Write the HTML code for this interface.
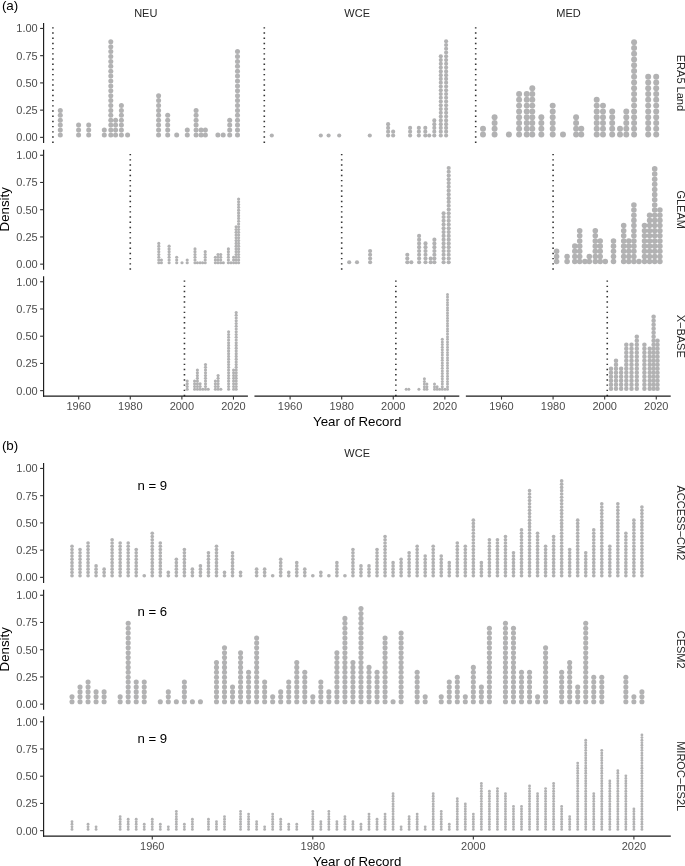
<!DOCTYPE html>
<html lang="en">
<head>
<meta charset="utf-8">
<title>Dot plots of record years</title>
<style>
html,body{margin:0;padding:0;background:#fff;}
body{width:685px;height:866px;overflow:hidden;}
svg{display:block;font-family:"Liberation Sans",Arial,Helvetica,sans-serif;}
</style>
</head>
<body>
<svg width="685" height="866" viewBox="0 0 685 866">
<rect width="685" height="866" fill="#fff"/>
<text x="1.9" y="9.6" font-size="13.4" fill="#000">(a)</text>
<text x="145.75" y="16.8" text-anchor="middle" font-size="11.0" fill="#262626">NEU</text>
<text x="357.15" y="16.8" text-anchor="middle" font-size="11.0" fill="#262626">WCE</text>
<text x="568.55" y="16.8" text-anchor="middle" font-size="11.0" fill="#262626">MED</text>
<line x1="43.6" y1="23.05" x2="43.6" y2="142.9" stroke="#1a1a1a" stroke-width="1.15"/>
<line x1="40.1" y1="28.45" x2="43.6" y2="28.45" stroke="#333" stroke-width="1.1"/>
<text x="37.7" y="32.3" text-anchor="end" font-size="11.0" fill="#4d4d4d">1.00</text>
<line x1="40.1" y1="55.67" x2="43.6" y2="55.67" stroke="#333" stroke-width="1.1"/>
<text x="37.7" y="59.52" text-anchor="end" font-size="11.0" fill="#4d4d4d">0.75</text>
<line x1="40.1" y1="82.9" x2="43.6" y2="82.9" stroke="#333" stroke-width="1.1"/>
<text x="37.7" y="86.75" text-anchor="end" font-size="11.0" fill="#4d4d4d">0.50</text>
<line x1="40.1" y1="110.13" x2="43.6" y2="110.13" stroke="#333" stroke-width="1.1"/>
<text x="37.7" y="113.98" text-anchor="end" font-size="11.0" fill="#4d4d4d">0.25</text>
<line x1="40.1" y1="137.35" x2="43.6" y2="137.35" stroke="#333" stroke-width="1.1"/>
<text x="37.7" y="141.2" text-anchor="end" font-size="11.0" fill="#4d4d4d">0.00</text>
<line x1="52.9" y1="142.95" x2="52.9" y2="23.5" stroke="#333" stroke-width="1.6" stroke-dasharray="1.4 3.8"/>
<g fill="#b2b2b3"><circle cx="60.3" cy="134.9" r="2.51"/><circle cx="60.3" cy="130" r="2.51"/><circle cx="60.3" cy="125.1" r="2.51"/><circle cx="60.3" cy="120.2" r="2.51"/><circle cx="60.3" cy="115.3" r="2.51"/><circle cx="60.3" cy="110.4" r="2.51"/><circle cx="78.6" cy="134.9" r="2.51"/><circle cx="78.6" cy="130" r="2.51"/><circle cx="78.6" cy="125.1" r="2.51"/><circle cx="88.7" cy="134.9" r="2.51"/><circle cx="88.7" cy="130" r="2.51"/><circle cx="88.7" cy="125.1" r="2.51"/><circle cx="104.3" cy="134.9" r="2.51"/><circle cx="104.3" cy="130" r="2.51"/><circle cx="110.8" cy="134.9" r="2.51"/><circle cx="110.8" cy="130" r="2.51"/><circle cx="110.8" cy="125.1" r="2.51"/><circle cx="110.8" cy="120.2" r="2.51"/><circle cx="110.8" cy="115.3" r="2.51"/><circle cx="110.8" cy="110.4" r="2.51"/><circle cx="110.8" cy="105.5" r="2.51"/><circle cx="110.8" cy="100.6" r="2.51"/><circle cx="110.8" cy="95.7" r="2.51"/><circle cx="110.8" cy="90.8" r="2.51"/><circle cx="110.8" cy="85.9" r="2.51"/><circle cx="110.8" cy="81" r="2.51"/><circle cx="110.8" cy="76.1" r="2.51"/><circle cx="110.8" cy="71.2" r="2.51"/><circle cx="110.8" cy="66.3" r="2.51"/><circle cx="110.8" cy="61.4" r="2.51"/><circle cx="110.8" cy="56.5" r="2.51"/><circle cx="110.8" cy="51.6" r="2.51"/><circle cx="110.8" cy="46.7" r="2.51"/><circle cx="110.8" cy="41.8" r="2.51"/><circle cx="115.6" cy="134.9" r="2.51"/><circle cx="115.6" cy="130" r="2.51"/><circle cx="115.6" cy="125.1" r="2.51"/><circle cx="115.6" cy="120.2" r="2.51"/><circle cx="121.4" cy="134.9" r="2.51"/><circle cx="121.4" cy="130" r="2.51"/><circle cx="121.4" cy="125.1" r="2.51"/><circle cx="121.4" cy="120.2" r="2.51"/><circle cx="121.4" cy="115.3" r="2.51"/><circle cx="121.4" cy="110.4" r="2.51"/><circle cx="121.4" cy="105.5" r="2.51"/><circle cx="127.6" cy="134.9" r="2.51"/><circle cx="158.6" cy="134.9" r="2.51"/><circle cx="158.6" cy="130" r="2.51"/><circle cx="158.6" cy="125.1" r="2.51"/><circle cx="158.6" cy="120.2" r="2.51"/><circle cx="158.6" cy="115.3" r="2.51"/><circle cx="158.6" cy="110.4" r="2.51"/><circle cx="158.6" cy="105.5" r="2.51"/><circle cx="158.6" cy="100.6" r="2.51"/><circle cx="158.6" cy="95.7" r="2.51"/><circle cx="167.7" cy="134.9" r="2.51"/><circle cx="167.7" cy="130" r="2.51"/><circle cx="167.7" cy="125.1" r="2.51"/><circle cx="167.7" cy="120.2" r="2.51"/><circle cx="167.7" cy="115.3" r="2.51"/><circle cx="176.7" cy="134.9" r="2.51"/><circle cx="187.3" cy="134.9" r="2.51"/><circle cx="187.3" cy="130" r="2.51"/><circle cx="196.1" cy="134.9" r="2.51"/><circle cx="196.1" cy="130" r="2.51"/><circle cx="196.1" cy="125.1" r="2.51"/><circle cx="196.1" cy="120.2" r="2.51"/><circle cx="196.1" cy="115.3" r="2.51"/><circle cx="196.1" cy="110.4" r="2.51"/><circle cx="201.1" cy="134.9" r="2.51"/><circle cx="201.1" cy="130" r="2.51"/><circle cx="205.4" cy="134.9" r="2.51"/><circle cx="205.4" cy="130" r="2.51"/><circle cx="217.9" cy="134.9" r="2.51"/><circle cx="223.2" cy="134.9" r="2.51"/><circle cx="229.7" cy="134.9" r="2.51"/><circle cx="229.7" cy="130" r="2.51"/><circle cx="229.7" cy="125.1" r="2.51"/><circle cx="229.7" cy="120.2" r="2.51"/><circle cx="237.5" cy="134.9" r="2.51"/><circle cx="237.5" cy="130" r="2.51"/><circle cx="237.5" cy="125.1" r="2.51"/><circle cx="237.5" cy="120.2" r="2.51"/><circle cx="237.5" cy="115.3" r="2.51"/><circle cx="237.5" cy="110.4" r="2.51"/><circle cx="237.5" cy="105.5" r="2.51"/><circle cx="237.5" cy="100.6" r="2.51"/><circle cx="237.5" cy="95.7" r="2.51"/><circle cx="237.5" cy="90.8" r="2.51"/><circle cx="237.5" cy="85.9" r="2.51"/><circle cx="237.5" cy="81" r="2.51"/><circle cx="237.5" cy="76.1" r="2.51"/><circle cx="237.5" cy="71.2" r="2.51"/><circle cx="237.5" cy="66.3" r="2.51"/><circle cx="237.5" cy="61.4" r="2.51"/><circle cx="237.5" cy="56.5" r="2.51"/><circle cx="237.5" cy="51.6" r="2.51"/></g>
<line x1="264.3" y1="142.95" x2="264.3" y2="23.5" stroke="#333" stroke-width="1.6" stroke-dasharray="1.4 3.8"/>
<g fill="#b2b2b3"><circle cx="271.8" cy="135.47" r="2.08"/><circle cx="320.8" cy="135.47" r="2.08"/><circle cx="328.6" cy="135.47" r="2.08"/><circle cx="339.2" cy="135.47" r="2.08"/><circle cx="369.8" cy="135.47" r="2.08"/><circle cx="388.1" cy="135.47" r="2.08"/><circle cx="388.1" cy="131.7" r="2.08"/><circle cx="388.1" cy="127.93" r="2.08"/><circle cx="388.1" cy="124.16" r="2.08"/><circle cx="393.15" cy="135.47" r="2.08"/><circle cx="393.15" cy="131.7" r="2.08"/><circle cx="410.1" cy="135.47" r="2.08"/><circle cx="410.1" cy="131.7" r="2.08"/><circle cx="410.1" cy="127.93" r="2.08"/><circle cx="418.85" cy="135.47" r="2.08"/><circle cx="418.85" cy="131.7" r="2.08"/><circle cx="418.85" cy="127.93" r="2.08"/><circle cx="425.3" cy="135.47" r="2.08"/><circle cx="425.3" cy="131.7" r="2.08"/><circle cx="425.3" cy="127.93" r="2.08"/><circle cx="429.2" cy="135.47" r="2.08"/><circle cx="434.3" cy="135.47" r="2.08"/><circle cx="434.3" cy="131.7" r="2.08"/><circle cx="434.3" cy="127.93" r="2.08"/><circle cx="434.3" cy="124.16" r="2.08"/><circle cx="434.3" cy="120.39" r="2.08"/><circle cx="440.8" cy="135.47" r="2.08"/><circle cx="440.8" cy="131.7" r="2.08"/><circle cx="440.8" cy="127.93" r="2.08"/><circle cx="440.8" cy="124.16" r="2.08"/><circle cx="440.8" cy="120.39" r="2.08"/><circle cx="440.8" cy="116.62" r="2.08"/><circle cx="440.8" cy="112.85" r="2.08"/><circle cx="440.8" cy="109.08" r="2.08"/><circle cx="440.8" cy="105.31" r="2.08"/><circle cx="440.8" cy="101.54" r="2.08"/><circle cx="440.8" cy="97.77" r="2.08"/><circle cx="440.8" cy="94" r="2.08"/><circle cx="440.8" cy="90.23" r="2.08"/><circle cx="440.8" cy="86.46" r="2.08"/><circle cx="440.8" cy="82.69" r="2.08"/><circle cx="440.8" cy="78.92" r="2.08"/><circle cx="440.8" cy="75.15" r="2.08"/><circle cx="440.8" cy="71.38" r="2.08"/><circle cx="440.8" cy="67.61" r="2.08"/><circle cx="440.8" cy="63.84" r="2.08"/><circle cx="440.8" cy="60.07" r="2.08"/><circle cx="440.8" cy="56.3" r="2.08"/><circle cx="446.1" cy="135.47" r="2.08"/><circle cx="446.1" cy="131.7" r="2.08"/><circle cx="446.1" cy="127.93" r="2.08"/><circle cx="446.1" cy="124.16" r="2.08"/><circle cx="446.1" cy="120.39" r="2.08"/><circle cx="446.1" cy="116.62" r="2.08"/><circle cx="446.1" cy="112.85" r="2.08"/><circle cx="446.1" cy="109.08" r="2.08"/><circle cx="446.1" cy="105.31" r="2.08"/><circle cx="446.1" cy="101.54" r="2.08"/><circle cx="446.1" cy="97.77" r="2.08"/><circle cx="446.1" cy="94" r="2.08"/><circle cx="446.1" cy="90.23" r="2.08"/><circle cx="446.1" cy="86.46" r="2.08"/><circle cx="446.1" cy="82.69" r="2.08"/><circle cx="446.1" cy="78.92" r="2.08"/><circle cx="446.1" cy="75.15" r="2.08"/><circle cx="446.1" cy="71.38" r="2.08"/><circle cx="446.1" cy="67.61" r="2.08"/><circle cx="446.1" cy="63.84" r="2.08"/><circle cx="446.1" cy="60.07" r="2.08"/><circle cx="446.1" cy="56.3" r="2.08"/><circle cx="446.1" cy="52.53" r="2.08"/><circle cx="446.1" cy="48.76" r="2.08"/><circle cx="446.1" cy="44.99" r="2.08"/><circle cx="446.1" cy="41.22" r="2.08"/></g>
<line x1="475.7" y1="142.95" x2="475.7" y2="23.5" stroke="#333" stroke-width="1.6" stroke-dasharray="1.4 3.8"/>
<g fill="#b2b2b3"><circle cx="483" cy="134.47" r="2.98"/><circle cx="483" cy="128.7" r="2.98"/><circle cx="494.6" cy="134.47" r="2.98"/><circle cx="494.6" cy="128.7" r="2.98"/><circle cx="494.6" cy="122.93" r="2.98"/><circle cx="494.6" cy="117.16" r="2.98"/><circle cx="508.9" cy="134.47" r="2.98"/><circle cx="519.1" cy="134.47" r="2.98"/><circle cx="519.1" cy="128.7" r="2.98"/><circle cx="519.1" cy="122.93" r="2.98"/><circle cx="519.1" cy="117.16" r="2.98"/><circle cx="519.1" cy="111.39" r="2.98"/><circle cx="519.1" cy="105.62" r="2.98"/><circle cx="519.1" cy="99.85" r="2.98"/><circle cx="519.1" cy="94.08" r="2.98"/><circle cx="526.75" cy="134.47" r="2.98"/><circle cx="526.75" cy="128.7" r="2.98"/><circle cx="526.75" cy="122.93" r="2.98"/><circle cx="526.75" cy="117.16" r="2.98"/><circle cx="526.75" cy="111.39" r="2.98"/><circle cx="526.75" cy="105.62" r="2.98"/><circle cx="526.75" cy="99.85" r="2.98"/><circle cx="526.75" cy="94.08" r="2.98"/><circle cx="532.3" cy="134.47" r="2.98"/><circle cx="532.3" cy="128.7" r="2.98"/><circle cx="532.3" cy="122.93" r="2.98"/><circle cx="532.3" cy="117.16" r="2.98"/><circle cx="532.3" cy="111.39" r="2.98"/><circle cx="532.3" cy="105.62" r="2.98"/><circle cx="532.3" cy="99.85" r="2.98"/><circle cx="532.3" cy="94.08" r="2.98"/><circle cx="532.3" cy="88.31" r="2.98"/><circle cx="541.35" cy="134.47" r="2.98"/><circle cx="541.35" cy="128.7" r="2.98"/><circle cx="541.35" cy="122.93" r="2.98"/><circle cx="541.35" cy="117.16" r="2.98"/><circle cx="552.7" cy="134.47" r="2.98"/><circle cx="552.7" cy="128.7" r="2.98"/><circle cx="552.7" cy="122.93" r="2.98"/><circle cx="552.7" cy="117.16" r="2.98"/><circle cx="552.7" cy="111.39" r="2.98"/><circle cx="552.7" cy="105.62" r="2.98"/><circle cx="563" cy="134.47" r="2.98"/><circle cx="576.1" cy="134.47" r="2.98"/><circle cx="576.1" cy="128.7" r="2.98"/><circle cx="576.1" cy="122.93" r="2.98"/><circle cx="576.1" cy="117.16" r="2.98"/><circle cx="581.3" cy="134.47" r="2.98"/><circle cx="581.3" cy="128.7" r="2.98"/><circle cx="596.7" cy="134.47" r="2.98"/><circle cx="596.7" cy="128.7" r="2.98"/><circle cx="596.7" cy="122.93" r="2.98"/><circle cx="596.7" cy="117.16" r="2.98"/><circle cx="596.7" cy="111.39" r="2.98"/><circle cx="596.7" cy="105.62" r="2.98"/><circle cx="596.7" cy="99.85" r="2.98"/><circle cx="603" cy="134.47" r="2.98"/><circle cx="603" cy="128.7" r="2.98"/><circle cx="603" cy="122.93" r="2.98"/><circle cx="603" cy="117.16" r="2.98"/><circle cx="603" cy="111.39" r="2.98"/><circle cx="603" cy="105.62" r="2.98"/><circle cx="612.2" cy="134.47" r="2.98"/><circle cx="612.2" cy="128.7" r="2.98"/><circle cx="612.2" cy="122.93" r="2.98"/><circle cx="612.2" cy="117.16" r="2.98"/><circle cx="612.2" cy="111.39" r="2.98"/><circle cx="620" cy="134.47" r="2.98"/><circle cx="620" cy="128.7" r="2.98"/><circle cx="626.3" cy="134.47" r="2.98"/><circle cx="626.3" cy="128.7" r="2.98"/><circle cx="626.3" cy="122.93" r="2.98"/><circle cx="626.3" cy="117.16" r="2.98"/><circle cx="626.3" cy="111.39" r="2.98"/><circle cx="634.1" cy="134.47" r="2.98"/><circle cx="634.1" cy="128.7" r="2.98"/><circle cx="634.1" cy="122.93" r="2.98"/><circle cx="634.1" cy="117.16" r="2.98"/><circle cx="634.1" cy="111.39" r="2.98"/><circle cx="634.1" cy="105.62" r="2.98"/><circle cx="634.1" cy="99.85" r="2.98"/><circle cx="634.1" cy="94.08" r="2.98"/><circle cx="634.1" cy="88.31" r="2.98"/><circle cx="634.1" cy="82.54" r="2.98"/><circle cx="634.1" cy="76.77" r="2.98"/><circle cx="634.1" cy="71" r="2.98"/><circle cx="634.1" cy="65.23" r="2.98"/><circle cx="634.1" cy="59.46" r="2.98"/><circle cx="634.1" cy="53.69" r="2.98"/><circle cx="634.1" cy="47.92" r="2.98"/><circle cx="634.1" cy="42.15" r="2.98"/><circle cx="648.2" cy="134.47" r="2.98"/><circle cx="648.2" cy="128.7" r="2.98"/><circle cx="648.2" cy="122.93" r="2.98"/><circle cx="648.2" cy="117.16" r="2.98"/><circle cx="648.2" cy="111.39" r="2.98"/><circle cx="648.2" cy="105.62" r="2.98"/><circle cx="648.2" cy="99.85" r="2.98"/><circle cx="648.2" cy="94.08" r="2.98"/><circle cx="648.2" cy="88.31" r="2.98"/><circle cx="648.2" cy="82.54" r="2.98"/><circle cx="648.2" cy="76.77" r="2.98"/><circle cx="656.2" cy="134.47" r="2.98"/><circle cx="656.2" cy="128.7" r="2.98"/><circle cx="656.2" cy="122.93" r="2.98"/><circle cx="656.2" cy="117.16" r="2.98"/><circle cx="656.2" cy="111.39" r="2.98"/><circle cx="656.2" cy="105.62" r="2.98"/><circle cx="656.2" cy="99.85" r="2.98"/><circle cx="656.2" cy="94.08" r="2.98"/><circle cx="656.2" cy="88.31" r="2.98"/><circle cx="656.2" cy="82.54" r="2.98"/><circle cx="656.2" cy="76.77" r="2.98"/></g>
<line x1="43.6" y1="149.85" x2="43.6" y2="269.7" stroke="#1a1a1a" stroke-width="1.15"/>
<line x1="40.1" y1="155.25" x2="43.6" y2="155.25" stroke="#333" stroke-width="1.1"/>
<text x="37.7" y="159.1" text-anchor="end" font-size="11.0" fill="#4d4d4d">1.00</text>
<line x1="40.1" y1="182.47" x2="43.6" y2="182.47" stroke="#333" stroke-width="1.1"/>
<text x="37.7" y="186.32" text-anchor="end" font-size="11.0" fill="#4d4d4d">0.75</text>
<line x1="40.1" y1="209.7" x2="43.6" y2="209.7" stroke="#333" stroke-width="1.1"/>
<text x="37.7" y="213.55" text-anchor="end" font-size="11.0" fill="#4d4d4d">0.50</text>
<line x1="40.1" y1="236.93" x2="43.6" y2="236.93" stroke="#333" stroke-width="1.1"/>
<text x="37.7" y="240.78" text-anchor="end" font-size="11.0" fill="#4d4d4d">0.25</text>
<line x1="40.1" y1="264.15" x2="43.6" y2="264.15" stroke="#333" stroke-width="1.1"/>
<text x="37.7" y="268" text-anchor="end" font-size="11.0" fill="#4d4d4d">0.00</text>
<line x1="130.28" y1="269.75" x2="130.28" y2="150.3" stroke="#333" stroke-width="1.6" stroke-dasharray="1.4 3.8"/>
<g fill="#b2b2b3"><circle cx="158.8" cy="262.77" r="1.58"/><circle cx="158.8" cy="260" r="1.58"/><circle cx="158.8" cy="257.23" r="1.58"/><circle cx="158.8" cy="254.46" r="1.58"/><circle cx="158.8" cy="251.69" r="1.58"/><circle cx="158.8" cy="248.92" r="1.58"/><circle cx="158.8" cy="246.15" r="1.58"/><circle cx="158.8" cy="243.38" r="1.58"/><circle cx="161.4" cy="262.77" r="1.58"/><circle cx="161.4" cy="260" r="1.58"/><circle cx="169.1" cy="262.77" r="1.58"/><circle cx="169.1" cy="260" r="1.58"/><circle cx="169.1" cy="257.23" r="1.58"/><circle cx="169.1" cy="254.46" r="1.58"/><circle cx="169.1" cy="251.69" r="1.58"/><circle cx="169.1" cy="248.92" r="1.58"/><circle cx="169.1" cy="246.15" r="1.58"/><circle cx="176.7" cy="262.77" r="1.58"/><circle cx="176.7" cy="260" r="1.58"/><circle cx="176.7" cy="257.23" r="1.58"/><circle cx="182" cy="262.77" r="1.58"/><circle cx="187.2" cy="262.77" r="1.58"/><circle cx="187.2" cy="260" r="1.58"/><circle cx="195" cy="262.77" r="1.58"/><circle cx="195" cy="260" r="1.58"/><circle cx="195" cy="257.23" r="1.58"/><circle cx="195" cy="254.46" r="1.58"/><circle cx="195" cy="251.69" r="1.58"/><circle cx="195" cy="248.92" r="1.58"/><circle cx="197.4" cy="262.77" r="1.58"/><circle cx="200.1" cy="262.77" r="1.58"/><circle cx="202.6" cy="262.77" r="1.58"/><circle cx="205.2" cy="262.77" r="1.58"/><circle cx="205.2" cy="260" r="1.58"/><circle cx="205.2" cy="257.23" r="1.58"/><circle cx="205.2" cy="254.46" r="1.58"/><circle cx="205.2" cy="251.69" r="1.58"/><circle cx="215.4" cy="262.77" r="1.58"/><circle cx="215.4" cy="260" r="1.58"/><circle cx="215.4" cy="257.23" r="1.58"/><circle cx="218" cy="262.77" r="1.58"/><circle cx="218" cy="260" r="1.58"/><circle cx="218" cy="257.23" r="1.58"/><circle cx="218" cy="254.46" r="1.58"/><circle cx="220.7" cy="262.77" r="1.58"/><circle cx="220.7" cy="260" r="1.58"/><circle cx="220.7" cy="257.23" r="1.58"/><circle cx="220.7" cy="254.46" r="1.58"/><circle cx="223.3" cy="262.77" r="1.58"/><circle cx="228.4" cy="262.77" r="1.58"/><circle cx="228.4" cy="260" r="1.58"/><circle cx="228.4" cy="257.23" r="1.58"/><circle cx="228.4" cy="254.46" r="1.58"/><circle cx="228.4" cy="251.69" r="1.58"/><circle cx="228.4" cy="248.92" r="1.58"/><circle cx="231" cy="262.77" r="1.58"/><circle cx="233.6" cy="262.77" r="1.58"/><circle cx="233.6" cy="260" r="1.58"/><circle cx="233.6" cy="257.23" r="1.58"/><circle cx="236.1" cy="262.77" r="1.58"/><circle cx="236.1" cy="260" r="1.58"/><circle cx="236.1" cy="257.23" r="1.58"/><circle cx="236.1" cy="254.46" r="1.58"/><circle cx="236.1" cy="251.69" r="1.58"/><circle cx="236.1" cy="248.92" r="1.58"/><circle cx="236.1" cy="246.15" r="1.58"/><circle cx="236.1" cy="243.38" r="1.58"/><circle cx="236.1" cy="240.61" r="1.58"/><circle cx="236.1" cy="237.84" r="1.58"/><circle cx="236.1" cy="235.07" r="1.58"/><circle cx="236.1" cy="232.3" r="1.58"/><circle cx="236.1" cy="229.53" r="1.58"/><circle cx="236.1" cy="226.76" r="1.58"/><circle cx="238.6" cy="262.77" r="1.58"/><circle cx="238.6" cy="260" r="1.58"/><circle cx="238.6" cy="257.23" r="1.58"/><circle cx="238.6" cy="254.46" r="1.58"/><circle cx="238.6" cy="251.69" r="1.58"/><circle cx="238.6" cy="248.92" r="1.58"/><circle cx="238.6" cy="246.15" r="1.58"/><circle cx="238.6" cy="243.38" r="1.58"/><circle cx="238.6" cy="240.61" r="1.58"/><circle cx="238.6" cy="237.84" r="1.58"/><circle cx="238.6" cy="235.07" r="1.58"/><circle cx="238.6" cy="232.3" r="1.58"/><circle cx="238.6" cy="229.53" r="1.58"/><circle cx="238.6" cy="226.76" r="1.58"/><circle cx="238.6" cy="223.99" r="1.58"/><circle cx="238.6" cy="221.22" r="1.58"/><circle cx="238.6" cy="218.45" r="1.58"/><circle cx="238.6" cy="215.68" r="1.58"/><circle cx="238.6" cy="212.91" r="1.58"/><circle cx="238.6" cy="210.14" r="1.58"/><circle cx="238.6" cy="207.37" r="1.58"/><circle cx="238.6" cy="204.6" r="1.58"/><circle cx="238.6" cy="201.83" r="1.58"/><circle cx="238.6" cy="199.06" r="1.58"/></g>
<line x1="341.69" y1="269.75" x2="341.69" y2="150.3" stroke="#333" stroke-width="1.6" stroke-dasharray="1.4 3.8"/>
<g fill="#b2b2b3"><circle cx="349.2" cy="262.27" r="2.08"/><circle cx="357" cy="262.27" r="2.08"/><circle cx="370.1" cy="262.27" r="2.08"/><circle cx="370.1" cy="258.5" r="2.08"/><circle cx="370.1" cy="254.73" r="2.08"/><circle cx="370.1" cy="250.96" r="2.08"/><circle cx="407.3" cy="262.27" r="2.08"/><circle cx="407.3" cy="258.5" r="2.08"/><circle cx="407.3" cy="254.73" r="2.08"/><circle cx="411.3" cy="262.27" r="2.08"/><circle cx="419.1" cy="262.27" r="2.08"/><circle cx="419.1" cy="258.5" r="2.08"/><circle cx="419.1" cy="254.73" r="2.08"/><circle cx="419.1" cy="250.96" r="2.08"/><circle cx="419.1" cy="247.19" r="2.08"/><circle cx="419.1" cy="243.42" r="2.08"/><circle cx="419.1" cy="239.65" r="2.08"/><circle cx="419.1" cy="235.88" r="2.08"/><circle cx="425.5" cy="262.27" r="2.08"/><circle cx="425.5" cy="258.5" r="2.08"/><circle cx="425.5" cy="254.73" r="2.08"/><circle cx="425.5" cy="250.96" r="2.08"/><circle cx="425.5" cy="247.19" r="2.08"/><circle cx="425.5" cy="243.42" r="2.08"/><circle cx="430.7" cy="262.27" r="2.08"/><circle cx="430.7" cy="258.5" r="2.08"/><circle cx="434.4" cy="262.27" r="2.08"/><circle cx="434.4" cy="258.5" r="2.08"/><circle cx="434.4" cy="254.73" r="2.08"/><circle cx="434.4" cy="250.96" r="2.08"/><circle cx="434.4" cy="247.19" r="2.08"/><circle cx="434.4" cy="243.42" r="2.08"/><circle cx="434.4" cy="239.65" r="2.08"/><circle cx="443.6" cy="262.27" r="2.08"/><circle cx="443.6" cy="258.5" r="2.08"/><circle cx="443.6" cy="254.73" r="2.08"/><circle cx="443.6" cy="250.96" r="2.08"/><circle cx="443.6" cy="247.19" r="2.08"/><circle cx="443.6" cy="243.42" r="2.08"/><circle cx="443.6" cy="239.65" r="2.08"/><circle cx="443.6" cy="235.88" r="2.08"/><circle cx="443.6" cy="232.11" r="2.08"/><circle cx="443.6" cy="228.34" r="2.08"/><circle cx="443.6" cy="224.57" r="2.08"/><circle cx="443.6" cy="220.8" r="2.08"/><circle cx="443.6" cy="217.03" r="2.08"/><circle cx="443.6" cy="213.26" r="2.08"/><circle cx="448.7" cy="262.27" r="2.08"/><circle cx="448.7" cy="258.5" r="2.08"/><circle cx="448.7" cy="254.73" r="2.08"/><circle cx="448.7" cy="250.96" r="2.08"/><circle cx="448.7" cy="247.19" r="2.08"/><circle cx="448.7" cy="243.42" r="2.08"/><circle cx="448.7" cy="239.65" r="2.08"/><circle cx="448.7" cy="235.88" r="2.08"/><circle cx="448.7" cy="232.11" r="2.08"/><circle cx="448.7" cy="228.34" r="2.08"/><circle cx="448.7" cy="224.57" r="2.08"/><circle cx="448.7" cy="220.8" r="2.08"/><circle cx="448.7" cy="217.03" r="2.08"/><circle cx="448.7" cy="213.26" r="2.08"/><circle cx="448.7" cy="209.49" r="2.08"/><circle cx="448.7" cy="205.72" r="2.08"/><circle cx="448.7" cy="201.95" r="2.08"/><circle cx="448.7" cy="198.18" r="2.08"/><circle cx="448.7" cy="194.41" r="2.08"/><circle cx="448.7" cy="190.64" r="2.08"/><circle cx="448.7" cy="186.87" r="2.08"/><circle cx="448.7" cy="183.1" r="2.08"/><circle cx="448.7" cy="179.33" r="2.08"/><circle cx="448.7" cy="175.56" r="2.08"/><circle cx="448.7" cy="171.79" r="2.08"/><circle cx="448.7" cy="168.02" r="2.08"/></g>
<line x1="553.09" y1="269.75" x2="553.09" y2="150.3" stroke="#333" stroke-width="1.6" stroke-dasharray="1.4 3.8"/>
<g fill="#b2b2b3"><circle cx="556.6" cy="261.58" r="2.78"/><circle cx="556.6" cy="256.43" r="2.78"/><circle cx="556.6" cy="251.28" r="2.78"/><circle cx="567.1" cy="261.58" r="2.78"/><circle cx="567.1" cy="256.43" r="2.78"/><circle cx="574.8" cy="261.58" r="2.78"/><circle cx="574.8" cy="256.43" r="2.78"/><circle cx="574.8" cy="251.28" r="2.78"/><circle cx="574.8" cy="246.13" r="2.78"/><circle cx="579.7" cy="261.58" r="2.78"/><circle cx="579.7" cy="256.43" r="2.78"/><circle cx="579.7" cy="251.28" r="2.78"/><circle cx="579.7" cy="246.13" r="2.78"/><circle cx="579.7" cy="240.98" r="2.78"/><circle cx="579.7" cy="235.83" r="2.78"/><circle cx="579.7" cy="230.68" r="2.78"/><circle cx="584.9" cy="261.58" r="2.78"/><circle cx="589.3" cy="261.58" r="2.78"/><circle cx="589.3" cy="256.43" r="2.78"/><circle cx="595.3" cy="261.58" r="2.78"/><circle cx="595.3" cy="256.43" r="2.78"/><circle cx="595.3" cy="251.28" r="2.78"/><circle cx="595.3" cy="246.13" r="2.78"/><circle cx="595.3" cy="240.98" r="2.78"/><circle cx="595.3" cy="235.83" r="2.78"/><circle cx="595.3" cy="230.68" r="2.78"/><circle cx="600.2" cy="261.58" r="2.78"/><circle cx="600.2" cy="256.43" r="2.78"/><circle cx="600.2" cy="251.28" r="2.78"/><circle cx="600.2" cy="246.13" r="2.78"/><circle cx="600.2" cy="240.98" r="2.78"/><circle cx="605.3" cy="261.58" r="2.78"/><circle cx="613.5" cy="261.58" r="2.78"/><circle cx="613.5" cy="256.43" r="2.78"/><circle cx="613.5" cy="251.28" r="2.78"/><circle cx="613.5" cy="246.13" r="2.78"/><circle cx="613.5" cy="240.98" r="2.78"/><circle cx="623.7" cy="261.58" r="2.78"/><circle cx="623.7" cy="256.43" r="2.78"/><circle cx="623.7" cy="251.28" r="2.78"/><circle cx="623.7" cy="246.13" r="2.78"/><circle cx="623.7" cy="240.98" r="2.78"/><circle cx="623.7" cy="235.83" r="2.78"/><circle cx="623.7" cy="230.68" r="2.78"/><circle cx="623.7" cy="225.53" r="2.78"/><circle cx="628.8" cy="261.58" r="2.78"/><circle cx="628.8" cy="256.43" r="2.78"/><circle cx="628.8" cy="251.28" r="2.78"/><circle cx="628.8" cy="246.13" r="2.78"/><circle cx="628.8" cy="240.98" r="2.78"/><circle cx="633.9" cy="261.58" r="2.78"/><circle cx="633.9" cy="256.43" r="2.78"/><circle cx="633.9" cy="251.28" r="2.78"/><circle cx="633.9" cy="246.13" r="2.78"/><circle cx="633.9" cy="240.98" r="2.78"/><circle cx="633.9" cy="235.83" r="2.78"/><circle cx="633.9" cy="230.68" r="2.78"/><circle cx="633.9" cy="225.53" r="2.78"/><circle cx="633.9" cy="220.38" r="2.78"/><circle cx="633.9" cy="215.23" r="2.78"/><circle cx="633.9" cy="210.08" r="2.78"/><circle cx="633.9" cy="204.93" r="2.78"/><circle cx="639" cy="261.58" r="2.78"/><circle cx="644.5" cy="261.58" r="2.78"/><circle cx="644.5" cy="256.43" r="2.78"/><circle cx="644.5" cy="251.28" r="2.78"/><circle cx="644.5" cy="246.13" r="2.78"/><circle cx="644.5" cy="240.98" r="2.78"/><circle cx="644.5" cy="235.83" r="2.78"/><circle cx="644.5" cy="230.68" r="2.78"/><circle cx="644.5" cy="225.53" r="2.78"/><circle cx="649.6" cy="261.58" r="2.78"/><circle cx="649.6" cy="256.43" r="2.78"/><circle cx="649.6" cy="251.28" r="2.78"/><circle cx="649.6" cy="246.13" r="2.78"/><circle cx="649.6" cy="240.98" r="2.78"/><circle cx="649.6" cy="235.83" r="2.78"/><circle cx="649.6" cy="230.68" r="2.78"/><circle cx="649.6" cy="225.53" r="2.78"/><circle cx="649.6" cy="220.38" r="2.78"/><circle cx="649.6" cy="215.23" r="2.78"/><circle cx="654.7" cy="261.58" r="2.78"/><circle cx="654.7" cy="256.43" r="2.78"/><circle cx="654.7" cy="251.28" r="2.78"/><circle cx="654.7" cy="246.13" r="2.78"/><circle cx="654.7" cy="240.98" r="2.78"/><circle cx="654.7" cy="235.83" r="2.78"/><circle cx="654.7" cy="230.68" r="2.78"/><circle cx="654.7" cy="225.53" r="2.78"/><circle cx="654.7" cy="220.38" r="2.78"/><circle cx="654.7" cy="215.23" r="2.78"/><circle cx="654.7" cy="210.08" r="2.78"/><circle cx="654.7" cy="204.93" r="2.78"/><circle cx="654.7" cy="199.78" r="2.78"/><circle cx="654.7" cy="194.63" r="2.78"/><circle cx="654.7" cy="189.48" r="2.78"/><circle cx="654.7" cy="184.33" r="2.78"/><circle cx="654.7" cy="179.18" r="2.78"/><circle cx="654.7" cy="174.03" r="2.78"/><circle cx="654.7" cy="168.88" r="2.78"/><circle cx="659.9" cy="261.58" r="2.78"/><circle cx="659.9" cy="256.43" r="2.78"/><circle cx="659.9" cy="251.28" r="2.78"/><circle cx="659.9" cy="246.13" r="2.78"/><circle cx="659.9" cy="240.98" r="2.78"/><circle cx="659.9" cy="235.83" r="2.78"/><circle cx="659.9" cy="230.68" r="2.78"/><circle cx="659.9" cy="225.53" r="2.78"/><circle cx="659.9" cy="220.38" r="2.78"/><circle cx="659.9" cy="215.23" r="2.78"/><circle cx="659.9" cy="210.08" r="2.78"/></g>
<line x1="43.6" y1="276.35" x2="43.6" y2="396.65" stroke="#1a1a1a" stroke-width="1.15"/>
<line x1="40.1" y1="281.75" x2="43.6" y2="281.75" stroke="#333" stroke-width="1.1"/>
<text x="37.7" y="285.6" text-anchor="end" font-size="11.0" fill="#4d4d4d">1.00</text>
<line x1="40.1" y1="308.97" x2="43.6" y2="308.97" stroke="#333" stroke-width="1.1"/>
<text x="37.7" y="312.82" text-anchor="end" font-size="11.0" fill="#4d4d4d">0.75</text>
<line x1="40.1" y1="336.2" x2="43.6" y2="336.2" stroke="#333" stroke-width="1.1"/>
<text x="37.7" y="340.05" text-anchor="end" font-size="11.0" fill="#4d4d4d">0.50</text>
<line x1="40.1" y1="363.43" x2="43.6" y2="363.43" stroke="#333" stroke-width="1.1"/>
<text x="37.7" y="367.28" text-anchor="end" font-size="11.0" fill="#4d4d4d">0.25</text>
<line x1="40.1" y1="390.65" x2="43.6" y2="390.65" stroke="#333" stroke-width="1.1"/>
<text x="37.7" y="394.5" text-anchor="end" font-size="11.0" fill="#4d4d4d">0.00</text>
<line x1="184.45" y1="396.25" x2="184.45" y2="276.8" stroke="#333" stroke-width="1.6" stroke-dasharray="1.4 3.8"/>
<g fill="#b2b2b3"><circle cx="187.2" cy="389.28" r="1.57"/><circle cx="187.2" cy="386.54" r="1.57"/><circle cx="187.2" cy="383.8" r="1.57"/><circle cx="187.2" cy="381.06" r="1.57"/><circle cx="194.6" cy="389.28" r="1.57"/><circle cx="194.6" cy="386.54" r="1.57"/><circle cx="194.6" cy="383.8" r="1.57"/><circle cx="194.6" cy="381.06" r="1.57"/><circle cx="197.4" cy="389.28" r="1.57"/><circle cx="197.4" cy="386.54" r="1.57"/><circle cx="197.4" cy="383.8" r="1.57"/><circle cx="197.4" cy="381.06" r="1.57"/><circle cx="197.4" cy="378.32" r="1.57"/><circle cx="197.4" cy="375.58" r="1.57"/><circle cx="197.4" cy="372.84" r="1.57"/><circle cx="197.4" cy="370.1" r="1.57"/><circle cx="200.1" cy="389.28" r="1.57"/><circle cx="200.1" cy="386.54" r="1.57"/><circle cx="200.1" cy="383.8" r="1.57"/><circle cx="202.8" cy="389.28" r="1.57"/><circle cx="205.5" cy="389.28" r="1.57"/><circle cx="205.5" cy="386.54" r="1.57"/><circle cx="205.5" cy="383.8" r="1.57"/><circle cx="205.5" cy="381.06" r="1.57"/><circle cx="205.5" cy="378.32" r="1.57"/><circle cx="205.5" cy="375.58" r="1.57"/><circle cx="205.5" cy="372.84" r="1.57"/><circle cx="205.5" cy="370.1" r="1.57"/><circle cx="205.5" cy="367.36" r="1.57"/><circle cx="205.5" cy="364.62" r="1.57"/><circle cx="208.2" cy="389.28" r="1.57"/><circle cx="215.4" cy="389.28" r="1.57"/><circle cx="215.4" cy="386.54" r="1.57"/><circle cx="215.4" cy="383.8" r="1.57"/><circle cx="215.4" cy="381.06" r="1.57"/><circle cx="218.1" cy="389.28" r="1.57"/><circle cx="218.1" cy="386.54" r="1.57"/><circle cx="218.1" cy="383.8" r="1.57"/><circle cx="218.1" cy="381.06" r="1.57"/><circle cx="218.1" cy="378.32" r="1.57"/><circle cx="218.1" cy="375.58" r="1.57"/><circle cx="220.8" cy="389.28" r="1.57"/><circle cx="228.6" cy="389.28" r="1.57"/><circle cx="228.6" cy="386.54" r="1.57"/><circle cx="228.6" cy="383.8" r="1.57"/><circle cx="228.6" cy="381.06" r="1.57"/><circle cx="228.6" cy="378.32" r="1.57"/><circle cx="228.6" cy="375.58" r="1.57"/><circle cx="228.6" cy="372.84" r="1.57"/><circle cx="228.6" cy="370.1" r="1.57"/><circle cx="228.6" cy="367.36" r="1.57"/><circle cx="228.6" cy="364.62" r="1.57"/><circle cx="228.6" cy="361.88" r="1.57"/><circle cx="228.6" cy="359.14" r="1.57"/><circle cx="228.6" cy="356.4" r="1.57"/><circle cx="228.6" cy="353.66" r="1.57"/><circle cx="228.6" cy="350.92" r="1.57"/><circle cx="228.6" cy="348.18" r="1.57"/><circle cx="228.6" cy="345.44" r="1.57"/><circle cx="228.6" cy="342.7" r="1.57"/><circle cx="228.6" cy="339.96" r="1.57"/><circle cx="228.6" cy="337.22" r="1.57"/><circle cx="228.6" cy="334.48" r="1.57"/><circle cx="228.6" cy="331.74" r="1.57"/><circle cx="233.6" cy="389.28" r="1.57"/><circle cx="233.6" cy="386.54" r="1.57"/><circle cx="233.6" cy="383.8" r="1.57"/><circle cx="233.6" cy="381.06" r="1.57"/><circle cx="233.6" cy="378.32" r="1.57"/><circle cx="233.6" cy="375.58" r="1.57"/><circle cx="233.6" cy="372.84" r="1.57"/><circle cx="233.6" cy="370.1" r="1.57"/><circle cx="236.2" cy="389.28" r="1.57"/><circle cx="236.2" cy="386.54" r="1.57"/><circle cx="236.2" cy="383.8" r="1.57"/><circle cx="236.2" cy="381.06" r="1.57"/><circle cx="236.2" cy="378.32" r="1.57"/><circle cx="236.2" cy="375.58" r="1.57"/><circle cx="236.2" cy="372.84" r="1.57"/><circle cx="236.2" cy="370.1" r="1.57"/><circle cx="236.2" cy="367.36" r="1.57"/><circle cx="236.2" cy="364.62" r="1.57"/><circle cx="236.2" cy="361.88" r="1.57"/><circle cx="236.2" cy="359.14" r="1.57"/><circle cx="236.2" cy="356.4" r="1.57"/><circle cx="236.2" cy="353.66" r="1.57"/><circle cx="236.2" cy="350.92" r="1.57"/><circle cx="236.2" cy="348.18" r="1.57"/><circle cx="236.2" cy="345.44" r="1.57"/><circle cx="236.2" cy="342.7" r="1.57"/><circle cx="236.2" cy="339.96" r="1.57"/><circle cx="236.2" cy="337.22" r="1.57"/><circle cx="236.2" cy="334.48" r="1.57"/><circle cx="236.2" cy="331.74" r="1.57"/><circle cx="236.2" cy="329" r="1.57"/><circle cx="236.2" cy="326.26" r="1.57"/><circle cx="236.2" cy="323.52" r="1.57"/><circle cx="236.2" cy="320.78" r="1.57"/><circle cx="236.2" cy="318.04" r="1.57"/><circle cx="236.2" cy="315.3" r="1.57"/><circle cx="236.2" cy="312.56" r="1.57"/></g>
<line x1="395.85" y1="396.25" x2="395.85" y2="276.8" stroke="#333" stroke-width="1.6" stroke-dasharray="1.4 3.8"/>
<g fill="#b2b2b3"><circle cx="406.2" cy="389.34" r="1.5"/><circle cx="408.8" cy="389.34" r="1.5"/><circle cx="418.9" cy="389.34" r="1.5"/><circle cx="424.4" cy="389.34" r="1.5"/><circle cx="424.4" cy="386.7" r="1.5"/><circle cx="424.4" cy="384.07" r="1.5"/><circle cx="424.4" cy="381.43" r="1.5"/><circle cx="424.4" cy="378.8" r="1.5"/><circle cx="426.9" cy="389.34" r="1.5"/><circle cx="426.9" cy="386.7" r="1.5"/><circle cx="426.9" cy="384.07" r="1.5"/><circle cx="434.5" cy="389.34" r="1.5"/><circle cx="434.5" cy="386.7" r="1.5"/><circle cx="434.5" cy="384.07" r="1.5"/><circle cx="437.1" cy="389.34" r="1.5"/><circle cx="437.1" cy="386.7" r="1.5"/><circle cx="439.6" cy="389.34" r="1.5"/><circle cx="442.3" cy="389.34" r="1.5"/><circle cx="442.3" cy="386.7" r="1.5"/><circle cx="442.3" cy="384.07" r="1.5"/><circle cx="442.3" cy="381.43" r="1.5"/><circle cx="442.3" cy="378.8" r="1.5"/><circle cx="442.3" cy="376.16" r="1.5"/><circle cx="442.3" cy="373.53" r="1.5"/><circle cx="442.3" cy="370.89" r="1.5"/><circle cx="442.3" cy="368.26" r="1.5"/><circle cx="442.3" cy="365.62" r="1.5"/><circle cx="442.3" cy="362.99" r="1.5"/><circle cx="442.3" cy="360.35" r="1.5"/><circle cx="442.3" cy="357.72" r="1.5"/><circle cx="442.3" cy="355.08" r="1.5"/><circle cx="442.3" cy="352.45" r="1.5"/><circle cx="442.3" cy="349.81" r="1.5"/><circle cx="442.3" cy="347.18" r="1.5"/><circle cx="442.3" cy="344.54" r="1.5"/><circle cx="442.3" cy="341.91" r="1.5"/><circle cx="442.3" cy="339.27" r="1.5"/><circle cx="445" cy="389.34" r="1.5"/><circle cx="447.5" cy="389.34" r="1.5"/><circle cx="447.5" cy="386.7" r="1.5"/><circle cx="447.5" cy="384.07" r="1.5"/><circle cx="447.5" cy="381.43" r="1.5"/><circle cx="447.5" cy="378.8" r="1.5"/><circle cx="447.5" cy="376.16" r="1.5"/><circle cx="447.5" cy="373.53" r="1.5"/><circle cx="447.5" cy="370.89" r="1.5"/><circle cx="447.5" cy="368.26" r="1.5"/><circle cx="447.5" cy="365.62" r="1.5"/><circle cx="447.5" cy="362.99" r="1.5"/><circle cx="447.5" cy="360.35" r="1.5"/><circle cx="447.5" cy="357.72" r="1.5"/><circle cx="447.5" cy="355.08" r="1.5"/><circle cx="447.5" cy="352.45" r="1.5"/><circle cx="447.5" cy="349.81" r="1.5"/><circle cx="447.5" cy="347.18" r="1.5"/><circle cx="447.5" cy="344.54" r="1.5"/><circle cx="447.5" cy="341.91" r="1.5"/><circle cx="447.5" cy="339.27" r="1.5"/><circle cx="447.5" cy="336.64" r="1.5"/><circle cx="447.5" cy="334" r="1.5"/><circle cx="447.5" cy="331.37" r="1.5"/><circle cx="447.5" cy="328.73" r="1.5"/><circle cx="447.5" cy="326.1" r="1.5"/><circle cx="447.5" cy="323.46" r="1.5"/><circle cx="447.5" cy="320.83" r="1.5"/><circle cx="447.5" cy="318.19" r="1.5"/><circle cx="447.5" cy="315.56" r="1.5"/><circle cx="447.5" cy="312.92" r="1.5"/><circle cx="447.5" cy="310.29" r="1.5"/><circle cx="447.5" cy="307.65" r="1.5"/><circle cx="447.5" cy="305.02" r="1.5"/><circle cx="447.5" cy="302.38" r="1.5"/><circle cx="447.5" cy="299.75" r="1.5"/><circle cx="447.5" cy="297.11" r="1.5"/><circle cx="447.5" cy="294.48" r="1.5"/></g>
<line x1="607.25" y1="396.25" x2="607.25" y2="276.8" stroke="#333" stroke-width="1.6" stroke-dasharray="1.4 3.8"/>
<g fill="#b2b2b3"><circle cx="611" cy="388.65" r="2.25"/><circle cx="611" cy="384.65" r="2.25"/><circle cx="611" cy="380.65" r="2.25"/><circle cx="611" cy="376.65" r="2.25"/><circle cx="611" cy="372.65" r="2.25"/><circle cx="611" cy="368.65" r="2.25"/><circle cx="616" cy="388.65" r="2.25"/><circle cx="616" cy="384.65" r="2.25"/><circle cx="616" cy="380.65" r="2.25"/><circle cx="616" cy="376.65" r="2.25"/><circle cx="616" cy="372.65" r="2.25"/><circle cx="616" cy="368.65" r="2.25"/><circle cx="616" cy="364.65" r="2.25"/><circle cx="616" cy="360.65" r="2.25"/><circle cx="621.1" cy="388.65" r="2.25"/><circle cx="621.1" cy="384.65" r="2.25"/><circle cx="621.1" cy="380.65" r="2.25"/><circle cx="621.1" cy="376.65" r="2.25"/><circle cx="621.1" cy="372.65" r="2.25"/><circle cx="621.1" cy="368.65" r="2.25"/><circle cx="626.3" cy="388.65" r="2.25"/><circle cx="626.3" cy="384.65" r="2.25"/><circle cx="626.3" cy="380.65" r="2.25"/><circle cx="626.3" cy="376.65" r="2.25"/><circle cx="626.3" cy="372.65" r="2.25"/><circle cx="626.3" cy="368.65" r="2.25"/><circle cx="626.3" cy="364.65" r="2.25"/><circle cx="626.3" cy="360.65" r="2.25"/><circle cx="626.3" cy="356.65" r="2.25"/><circle cx="626.3" cy="352.65" r="2.25"/><circle cx="626.3" cy="348.65" r="2.25"/><circle cx="626.3" cy="344.65" r="2.25"/><circle cx="631.5" cy="388.65" r="2.25"/><circle cx="631.5" cy="384.65" r="2.25"/><circle cx="631.5" cy="380.65" r="2.25"/><circle cx="631.5" cy="376.65" r="2.25"/><circle cx="631.5" cy="372.65" r="2.25"/><circle cx="631.5" cy="368.65" r="2.25"/><circle cx="631.5" cy="364.65" r="2.25"/><circle cx="631.5" cy="360.65" r="2.25"/><circle cx="631.5" cy="356.65" r="2.25"/><circle cx="631.5" cy="352.65" r="2.25"/><circle cx="631.5" cy="348.65" r="2.25"/><circle cx="631.5" cy="344.65" r="2.25"/><circle cx="636.8" cy="388.65" r="2.25"/><circle cx="636.8" cy="384.65" r="2.25"/><circle cx="636.8" cy="380.65" r="2.25"/><circle cx="636.8" cy="376.65" r="2.25"/><circle cx="636.8" cy="372.65" r="2.25"/><circle cx="636.8" cy="368.65" r="2.25"/><circle cx="636.8" cy="364.65" r="2.25"/><circle cx="636.8" cy="360.65" r="2.25"/><circle cx="636.8" cy="356.65" r="2.25"/><circle cx="636.8" cy="352.65" r="2.25"/><circle cx="636.8" cy="348.65" r="2.25"/><circle cx="636.8" cy="344.65" r="2.25"/><circle cx="636.8" cy="340.65" r="2.25"/><circle cx="636.8" cy="336.65" r="2.25"/><circle cx="644.4" cy="388.65" r="2.25"/><circle cx="644.4" cy="384.65" r="2.25"/><circle cx="644.4" cy="380.65" r="2.25"/><circle cx="644.4" cy="376.65" r="2.25"/><circle cx="644.4" cy="372.65" r="2.25"/><circle cx="644.4" cy="368.65" r="2.25"/><circle cx="644.4" cy="364.65" r="2.25"/><circle cx="644.4" cy="360.65" r="2.25"/><circle cx="644.4" cy="356.65" r="2.25"/><circle cx="644.4" cy="352.65" r="2.25"/><circle cx="644.4" cy="348.65" r="2.25"/><circle cx="644.4" cy="344.65" r="2.25"/><circle cx="649.7" cy="388.65" r="2.25"/><circle cx="649.7" cy="384.65" r="2.25"/><circle cx="649.7" cy="380.65" r="2.25"/><circle cx="649.7" cy="376.65" r="2.25"/><circle cx="649.7" cy="372.65" r="2.25"/><circle cx="649.7" cy="368.65" r="2.25"/><circle cx="649.7" cy="364.65" r="2.25"/><circle cx="649.7" cy="360.65" r="2.25"/><circle cx="649.7" cy="356.65" r="2.25"/><circle cx="649.7" cy="352.65" r="2.25"/><circle cx="649.7" cy="348.65" r="2.25"/><circle cx="653.6" cy="388.65" r="2.25"/><circle cx="653.6" cy="384.65" r="2.25"/><circle cx="653.6" cy="380.65" r="2.25"/><circle cx="653.6" cy="376.65" r="2.25"/><circle cx="653.6" cy="372.65" r="2.25"/><circle cx="653.6" cy="368.65" r="2.25"/><circle cx="653.6" cy="364.65" r="2.25"/><circle cx="653.6" cy="360.65" r="2.25"/><circle cx="653.6" cy="356.65" r="2.25"/><circle cx="653.6" cy="352.65" r="2.25"/><circle cx="653.6" cy="348.65" r="2.25"/><circle cx="653.6" cy="344.65" r="2.25"/><circle cx="653.6" cy="340.65" r="2.25"/><circle cx="653.6" cy="336.65" r="2.25"/><circle cx="653.6" cy="332.65" r="2.25"/><circle cx="653.6" cy="328.65" r="2.25"/><circle cx="653.6" cy="324.65" r="2.25"/><circle cx="653.6" cy="320.65" r="2.25"/><circle cx="653.6" cy="316.65" r="2.25"/><circle cx="657.5" cy="388.65" r="2.25"/><circle cx="657.5" cy="384.65" r="2.25"/><circle cx="657.5" cy="380.65" r="2.25"/><circle cx="657.5" cy="376.65" r="2.25"/><circle cx="657.5" cy="372.65" r="2.25"/><circle cx="657.5" cy="368.65" r="2.25"/><circle cx="657.5" cy="364.65" r="2.25"/><circle cx="657.5" cy="360.65" r="2.25"/><circle cx="657.5" cy="356.65" r="2.25"/><circle cx="657.5" cy="352.65" r="2.25"/><circle cx="657.5" cy="348.65" r="2.25"/><circle cx="657.5" cy="344.65" r="2.25"/><circle cx="657.5" cy="340.65" r="2.25"/></g>
<text transform="translate(677 82.9) rotate(90)" text-anchor="middle" font-size="11.0" fill="#262626">ERA5 Land</text>
<text transform="translate(677 209.7) rotate(90)" text-anchor="middle" font-size="11.0" fill="#262626">GLEAM</text>
<text transform="translate(677 336.2) rotate(90)" text-anchor="middle" font-size="11.0" fill="#262626">X−BASE</text>
<line x1="43.05" y1="396.1" x2="247.9" y2="396.1" stroke="#1a1a1a" stroke-width="1.15"/>
<line x1="78.7" y1="396.1" x2="78.7" y2="399.6" stroke="#333" stroke-width="1.1"/>
<text x="78.7" y="409.8" text-anchor="middle" font-size="11.0" fill="#4d4d4d">1960</text>
<line x1="130.28" y1="396.1" x2="130.28" y2="399.6" stroke="#333" stroke-width="1.1"/>
<text x="130.28" y="409.8" text-anchor="middle" font-size="11.0" fill="#4d4d4d">1980</text>
<line x1="181.88" y1="396.1" x2="181.88" y2="399.6" stroke="#333" stroke-width="1.1"/>
<text x="181.88" y="409.8" text-anchor="middle" font-size="11.0" fill="#4d4d4d">2000</text>
<line x1="233.47" y1="396.1" x2="233.47" y2="399.6" stroke="#333" stroke-width="1.1"/>
<text x="233.47" y="409.8" text-anchor="middle" font-size="11.0" fill="#4d4d4d">2020</text>
<line x1="254.45" y1="396.1" x2="459.3" y2="396.1" stroke="#1a1a1a" stroke-width="1.15"/>
<line x1="290.1" y1="396.1" x2="290.1" y2="399.6" stroke="#333" stroke-width="1.1"/>
<text x="290.1" y="409.8" text-anchor="middle" font-size="11.0" fill="#4d4d4d">1960</text>
<line x1="341.69" y1="396.1" x2="341.69" y2="399.6" stroke="#333" stroke-width="1.1"/>
<text x="341.69" y="409.8" text-anchor="middle" font-size="11.0" fill="#4d4d4d">1980</text>
<line x1="393.27" y1="396.1" x2="393.27" y2="399.6" stroke="#333" stroke-width="1.1"/>
<text x="393.27" y="409.8" text-anchor="middle" font-size="11.0" fill="#4d4d4d">2000</text>
<line x1="444.87" y1="396.1" x2="444.87" y2="399.6" stroke="#333" stroke-width="1.1"/>
<text x="444.87" y="409.8" text-anchor="middle" font-size="11.0" fill="#4d4d4d">2020</text>
<line x1="465.85" y1="396.1" x2="670.7" y2="396.1" stroke="#1a1a1a" stroke-width="1.15"/>
<line x1="501.5" y1="396.1" x2="501.5" y2="399.6" stroke="#333" stroke-width="1.1"/>
<text x="501.5" y="409.8" text-anchor="middle" font-size="11.0" fill="#4d4d4d">1960</text>
<line x1="553.09" y1="396.1" x2="553.09" y2="399.6" stroke="#333" stroke-width="1.1"/>
<text x="553.09" y="409.8" text-anchor="middle" font-size="11.0" fill="#4d4d4d">1980</text>
<line x1="604.68" y1="396.1" x2="604.68" y2="399.6" stroke="#333" stroke-width="1.1"/>
<text x="604.68" y="409.8" text-anchor="middle" font-size="11.0" fill="#4d4d4d">2000</text>
<line x1="656.27" y1="396.1" x2="656.27" y2="399.6" stroke="#333" stroke-width="1.1"/>
<text x="656.27" y="409.8" text-anchor="middle" font-size="11.0" fill="#4d4d4d">2020</text>
<text x="357.2" y="425.9" text-anchor="middle" font-size="13.3" fill="#000">Year of Record</text>
<text transform="translate(9.1 209.3) rotate(-90)" text-anchor="middle" font-size="13.3" fill="#000">Density</text>
<text x="1.9" y="449.6" font-size="13.4" fill="#000">(b)</text>
<text x="357.2" y="457.2" text-anchor="middle" font-size="11.0" fill="#262626">WCE</text>
<line x1="43.6" y1="463.05" x2="43.6" y2="582.9" stroke="#1a1a1a" stroke-width="1.15"/>
<line x1="40.1" y1="468.45" x2="43.6" y2="468.45" stroke="#333" stroke-width="1.1"/>
<text x="37.7" y="472.3" text-anchor="end" font-size="11.0" fill="#4d4d4d">1.00</text>
<line x1="40.1" y1="495.67" x2="43.6" y2="495.67" stroke="#333" stroke-width="1.1"/>
<text x="37.7" y="499.52" text-anchor="end" font-size="11.0" fill="#4d4d4d">0.75</text>
<line x1="40.1" y1="522.9" x2="43.6" y2="522.9" stroke="#333" stroke-width="1.1"/>
<text x="37.7" y="526.75" text-anchor="end" font-size="11.0" fill="#4d4d4d">0.50</text>
<line x1="40.1" y1="550.13" x2="43.6" y2="550.13" stroke="#333" stroke-width="1.1"/>
<text x="37.7" y="553.98" text-anchor="end" font-size="11.0" fill="#4d4d4d">0.25</text>
<line x1="40.1" y1="577.35" x2="43.6" y2="577.35" stroke="#333" stroke-width="1.1"/>
<text x="37.7" y="581.2" text-anchor="end" font-size="11.0" fill="#4d4d4d">0.00</text>
<g fill="#b2b2b3"><circle cx="72" cy="575.72" r="1.83"/><circle cx="72" cy="572.45" r="1.83"/><circle cx="72" cy="569.18" r="1.83"/><circle cx="72" cy="565.91" r="1.83"/><circle cx="72" cy="562.64" r="1.83"/><circle cx="72" cy="559.37" r="1.83"/><circle cx="72" cy="556.1" r="1.83"/><circle cx="72" cy="552.83" r="1.83"/><circle cx="72" cy="549.56" r="1.83"/><circle cx="72" cy="546.29" r="1.83"/><circle cx="80.03" cy="575.72" r="1.83"/><circle cx="80.03" cy="572.45" r="1.83"/><circle cx="80.03" cy="569.18" r="1.83"/><circle cx="80.03" cy="565.91" r="1.83"/><circle cx="80.03" cy="562.64" r="1.83"/><circle cx="80.03" cy="559.37" r="1.83"/><circle cx="80.03" cy="556.1" r="1.83"/><circle cx="80.03" cy="552.83" r="1.83"/><circle cx="80.03" cy="549.56" r="1.83"/><circle cx="88.05" cy="575.72" r="1.83"/><circle cx="88.05" cy="572.45" r="1.83"/><circle cx="88.05" cy="569.18" r="1.83"/><circle cx="88.05" cy="565.91" r="1.83"/><circle cx="88.05" cy="562.64" r="1.83"/><circle cx="88.05" cy="559.37" r="1.83"/><circle cx="88.05" cy="556.1" r="1.83"/><circle cx="88.05" cy="552.83" r="1.83"/><circle cx="88.05" cy="549.56" r="1.83"/><circle cx="88.05" cy="546.29" r="1.83"/><circle cx="88.05" cy="543.02" r="1.83"/><circle cx="96.08" cy="575.72" r="1.83"/><circle cx="96.08" cy="572.45" r="1.83"/><circle cx="96.08" cy="569.18" r="1.83"/><circle cx="96.08" cy="565.91" r="1.83"/><circle cx="104.11" cy="575.72" r="1.83"/><circle cx="104.11" cy="572.45" r="1.83"/><circle cx="104.11" cy="569.18" r="1.83"/><circle cx="112.13" cy="575.72" r="1.83"/><circle cx="112.13" cy="572.45" r="1.83"/><circle cx="112.13" cy="569.18" r="1.83"/><circle cx="112.13" cy="565.91" r="1.83"/><circle cx="112.13" cy="562.64" r="1.83"/><circle cx="112.13" cy="559.37" r="1.83"/><circle cx="112.13" cy="556.1" r="1.83"/><circle cx="112.13" cy="552.83" r="1.83"/><circle cx="112.13" cy="549.56" r="1.83"/><circle cx="112.13" cy="546.29" r="1.83"/><circle cx="112.13" cy="543.02" r="1.83"/><circle cx="112.13" cy="539.75" r="1.83"/><circle cx="120.16" cy="575.72" r="1.83"/><circle cx="120.16" cy="572.45" r="1.83"/><circle cx="120.16" cy="569.18" r="1.83"/><circle cx="120.16" cy="565.91" r="1.83"/><circle cx="120.16" cy="562.64" r="1.83"/><circle cx="120.16" cy="559.37" r="1.83"/><circle cx="120.16" cy="556.1" r="1.83"/><circle cx="120.16" cy="552.83" r="1.83"/><circle cx="120.16" cy="549.56" r="1.83"/><circle cx="120.16" cy="546.29" r="1.83"/><circle cx="120.16" cy="543.02" r="1.83"/><circle cx="128.19" cy="575.72" r="1.83"/><circle cx="128.19" cy="572.45" r="1.83"/><circle cx="128.19" cy="569.18" r="1.83"/><circle cx="128.19" cy="565.91" r="1.83"/><circle cx="128.19" cy="562.64" r="1.83"/><circle cx="128.19" cy="559.37" r="1.83"/><circle cx="128.19" cy="556.1" r="1.83"/><circle cx="128.19" cy="552.83" r="1.83"/><circle cx="128.19" cy="549.56" r="1.83"/><circle cx="128.19" cy="546.29" r="1.83"/><circle cx="128.19" cy="543.02" r="1.83"/><circle cx="136.22" cy="575.72" r="1.83"/><circle cx="136.22" cy="572.45" r="1.83"/><circle cx="136.22" cy="569.18" r="1.83"/><circle cx="136.22" cy="565.91" r="1.83"/><circle cx="136.22" cy="562.64" r="1.83"/><circle cx="136.22" cy="559.37" r="1.83"/><circle cx="136.22" cy="556.1" r="1.83"/><circle cx="136.22" cy="552.83" r="1.83"/><circle cx="136.22" cy="549.56" r="1.83"/><circle cx="144.24" cy="575.72" r="1.83"/><circle cx="152.27" cy="575.72" r="1.83"/><circle cx="152.27" cy="572.45" r="1.83"/><circle cx="152.27" cy="569.18" r="1.83"/><circle cx="152.27" cy="565.91" r="1.83"/><circle cx="152.27" cy="562.64" r="1.83"/><circle cx="152.27" cy="559.37" r="1.83"/><circle cx="152.27" cy="556.1" r="1.83"/><circle cx="152.27" cy="552.83" r="1.83"/><circle cx="152.27" cy="549.56" r="1.83"/><circle cx="152.27" cy="546.29" r="1.83"/><circle cx="152.27" cy="543.02" r="1.83"/><circle cx="152.27" cy="539.75" r="1.83"/><circle cx="152.27" cy="536.48" r="1.83"/><circle cx="152.27" cy="533.21" r="1.83"/><circle cx="160.3" cy="575.72" r="1.83"/><circle cx="160.3" cy="572.45" r="1.83"/><circle cx="160.3" cy="569.18" r="1.83"/><circle cx="160.3" cy="565.91" r="1.83"/><circle cx="160.3" cy="562.64" r="1.83"/><circle cx="160.3" cy="559.37" r="1.83"/><circle cx="160.3" cy="556.1" r="1.83"/><circle cx="160.3" cy="552.83" r="1.83"/><circle cx="160.3" cy="549.56" r="1.83"/><circle cx="160.3" cy="546.29" r="1.83"/><circle cx="160.3" cy="543.02" r="1.83"/><circle cx="168.32" cy="575.72" r="1.83"/><circle cx="168.32" cy="572.45" r="1.83"/><circle cx="176.35" cy="575.72" r="1.83"/><circle cx="176.35" cy="572.45" r="1.83"/><circle cx="176.35" cy="569.18" r="1.83"/><circle cx="176.35" cy="565.91" r="1.83"/><circle cx="176.35" cy="562.64" r="1.83"/><circle cx="176.35" cy="559.37" r="1.83"/><circle cx="184.38" cy="575.72" r="1.83"/><circle cx="184.38" cy="572.45" r="1.83"/><circle cx="184.38" cy="569.18" r="1.83"/><circle cx="184.38" cy="565.91" r="1.83"/><circle cx="184.38" cy="562.64" r="1.83"/><circle cx="184.38" cy="559.37" r="1.83"/><circle cx="184.38" cy="556.1" r="1.83"/><circle cx="184.38" cy="552.83" r="1.83"/><circle cx="184.38" cy="549.56" r="1.83"/><circle cx="192.4" cy="575.72" r="1.83"/><circle cx="192.4" cy="572.45" r="1.83"/><circle cx="192.4" cy="569.18" r="1.83"/><circle cx="200.43" cy="575.72" r="1.83"/><circle cx="200.43" cy="572.45" r="1.83"/><circle cx="200.43" cy="569.18" r="1.83"/><circle cx="200.43" cy="565.91" r="1.83"/><circle cx="208.46" cy="575.72" r="1.83"/><circle cx="208.46" cy="572.45" r="1.83"/><circle cx="208.46" cy="569.18" r="1.83"/><circle cx="208.46" cy="565.91" r="1.83"/><circle cx="208.46" cy="562.64" r="1.83"/><circle cx="208.46" cy="559.37" r="1.83"/><circle cx="208.46" cy="556.1" r="1.83"/><circle cx="208.46" cy="552.83" r="1.83"/><circle cx="216.49" cy="575.72" r="1.83"/><circle cx="216.49" cy="572.45" r="1.83"/><circle cx="216.49" cy="569.18" r="1.83"/><circle cx="216.49" cy="565.91" r="1.83"/><circle cx="216.49" cy="562.64" r="1.83"/><circle cx="216.49" cy="559.37" r="1.83"/><circle cx="216.49" cy="556.1" r="1.83"/><circle cx="216.49" cy="552.83" r="1.83"/><circle cx="216.49" cy="549.56" r="1.83"/><circle cx="216.49" cy="546.29" r="1.83"/><circle cx="224.51" cy="575.72" r="1.83"/><circle cx="224.51" cy="572.45" r="1.83"/><circle cx="232.54" cy="575.72" r="1.83"/><circle cx="232.54" cy="572.45" r="1.83"/><circle cx="232.54" cy="569.18" r="1.83"/><circle cx="232.54" cy="565.91" r="1.83"/><circle cx="232.54" cy="562.64" r="1.83"/><circle cx="232.54" cy="559.37" r="1.83"/><circle cx="232.54" cy="556.1" r="1.83"/><circle cx="232.54" cy="552.83" r="1.83"/><circle cx="240.57" cy="575.72" r="1.83"/><circle cx="240.57" cy="572.45" r="1.83"/><circle cx="256.62" cy="575.72" r="1.83"/><circle cx="256.62" cy="572.45" r="1.83"/><circle cx="256.62" cy="569.18" r="1.83"/><circle cx="264.65" cy="575.72" r="1.83"/><circle cx="264.65" cy="572.45" r="1.83"/><circle cx="264.65" cy="569.18" r="1.83"/><circle cx="272.67" cy="575.72" r="1.83"/><circle cx="280.7" cy="575.72" r="1.83"/><circle cx="280.7" cy="572.45" r="1.83"/><circle cx="280.7" cy="569.18" r="1.83"/><circle cx="280.7" cy="565.91" r="1.83"/><circle cx="280.7" cy="562.64" r="1.83"/><circle cx="280.7" cy="559.37" r="1.83"/><circle cx="288.73" cy="575.72" r="1.83"/><circle cx="288.73" cy="572.45" r="1.83"/><circle cx="296.76" cy="575.72" r="1.83"/><circle cx="296.76" cy="572.45" r="1.83"/><circle cx="296.76" cy="569.18" r="1.83"/><circle cx="296.76" cy="565.91" r="1.83"/><circle cx="296.76" cy="562.64" r="1.83"/><circle cx="304.78" cy="575.72" r="1.83"/><circle cx="304.78" cy="572.45" r="1.83"/><circle cx="304.78" cy="569.18" r="1.83"/><circle cx="312.81" cy="575.72" r="1.83"/><circle cx="320.84" cy="575.72" r="1.83"/><circle cx="320.84" cy="572.45" r="1.83"/><circle cx="328.86" cy="575.72" r="1.83"/><circle cx="336.89" cy="575.72" r="1.83"/><circle cx="336.89" cy="572.45" r="1.83"/><circle cx="336.89" cy="569.18" r="1.83"/><circle cx="336.89" cy="565.91" r="1.83"/><circle cx="336.89" cy="562.64" r="1.83"/><circle cx="344.92" cy="575.72" r="1.83"/><circle cx="352.94" cy="575.72" r="1.83"/><circle cx="352.94" cy="572.45" r="1.83"/><circle cx="352.94" cy="569.18" r="1.83"/><circle cx="352.94" cy="565.91" r="1.83"/><circle cx="352.94" cy="562.64" r="1.83"/><circle cx="352.94" cy="559.37" r="1.83"/><circle cx="352.94" cy="556.1" r="1.83"/><circle cx="352.94" cy="552.83" r="1.83"/><circle cx="352.94" cy="549.56" r="1.83"/><circle cx="360.97" cy="575.72" r="1.83"/><circle cx="360.97" cy="572.45" r="1.83"/><circle cx="360.97" cy="569.18" r="1.83"/><circle cx="360.97" cy="565.91" r="1.83"/><circle cx="369" cy="575.72" r="1.83"/><circle cx="369" cy="572.45" r="1.83"/><circle cx="369" cy="569.18" r="1.83"/><circle cx="369" cy="565.91" r="1.83"/><circle cx="377.03" cy="575.72" r="1.83"/><circle cx="377.03" cy="572.45" r="1.83"/><circle cx="377.03" cy="569.18" r="1.83"/><circle cx="377.03" cy="565.91" r="1.83"/><circle cx="377.03" cy="562.64" r="1.83"/><circle cx="377.03" cy="559.37" r="1.83"/><circle cx="377.03" cy="556.1" r="1.83"/><circle cx="377.03" cy="552.83" r="1.83"/><circle cx="377.03" cy="549.56" r="1.83"/><circle cx="385.05" cy="575.72" r="1.83"/><circle cx="385.05" cy="572.45" r="1.83"/><circle cx="385.05" cy="569.18" r="1.83"/><circle cx="385.05" cy="565.91" r="1.83"/><circle cx="385.05" cy="562.64" r="1.83"/><circle cx="385.05" cy="559.37" r="1.83"/><circle cx="385.05" cy="556.1" r="1.83"/><circle cx="385.05" cy="552.83" r="1.83"/><circle cx="385.05" cy="549.56" r="1.83"/><circle cx="385.05" cy="546.29" r="1.83"/><circle cx="385.05" cy="543.02" r="1.83"/><circle cx="385.05" cy="539.75" r="1.83"/><circle cx="385.05" cy="536.48" r="1.83"/><circle cx="393.08" cy="575.72" r="1.83"/><circle cx="393.08" cy="572.45" r="1.83"/><circle cx="393.08" cy="569.18" r="1.83"/><circle cx="393.08" cy="565.91" r="1.83"/><circle cx="393.08" cy="562.64" r="1.83"/><circle cx="401.11" cy="575.72" r="1.83"/><circle cx="401.11" cy="572.45" r="1.83"/><circle cx="401.11" cy="569.18" r="1.83"/><circle cx="401.11" cy="565.91" r="1.83"/><circle cx="401.11" cy="562.64" r="1.83"/><circle cx="401.11" cy="559.37" r="1.83"/><circle cx="409.13" cy="575.72" r="1.83"/><circle cx="409.13" cy="572.45" r="1.83"/><circle cx="409.13" cy="569.18" r="1.83"/><circle cx="409.13" cy="565.91" r="1.83"/><circle cx="409.13" cy="562.64" r="1.83"/><circle cx="409.13" cy="559.37" r="1.83"/><circle cx="409.13" cy="556.1" r="1.83"/><circle cx="409.13" cy="552.83" r="1.83"/><circle cx="417.16" cy="575.72" r="1.83"/><circle cx="417.16" cy="572.45" r="1.83"/><circle cx="417.16" cy="569.18" r="1.83"/><circle cx="417.16" cy="565.91" r="1.83"/><circle cx="417.16" cy="562.64" r="1.83"/><circle cx="417.16" cy="559.37" r="1.83"/><circle cx="417.16" cy="556.1" r="1.83"/><circle cx="417.16" cy="552.83" r="1.83"/><circle cx="417.16" cy="549.56" r="1.83"/><circle cx="417.16" cy="546.29" r="1.83"/><circle cx="425.19" cy="575.72" r="1.83"/><circle cx="425.19" cy="572.45" r="1.83"/><circle cx="425.19" cy="569.18" r="1.83"/><circle cx="425.19" cy="565.91" r="1.83"/><circle cx="425.19" cy="562.64" r="1.83"/><circle cx="425.19" cy="559.37" r="1.83"/><circle cx="425.19" cy="556.1" r="1.83"/><circle cx="433.21" cy="575.72" r="1.83"/><circle cx="433.21" cy="572.45" r="1.83"/><circle cx="433.21" cy="569.18" r="1.83"/><circle cx="433.21" cy="565.91" r="1.83"/><circle cx="433.21" cy="562.64" r="1.83"/><circle cx="433.21" cy="559.37" r="1.83"/><circle cx="433.21" cy="556.1" r="1.83"/><circle cx="433.21" cy="552.83" r="1.83"/><circle cx="433.21" cy="549.56" r="1.83"/><circle cx="433.21" cy="546.29" r="1.83"/><circle cx="441.24" cy="575.72" r="1.83"/><circle cx="441.24" cy="572.45" r="1.83"/><circle cx="441.24" cy="569.18" r="1.83"/><circle cx="441.24" cy="565.91" r="1.83"/><circle cx="441.24" cy="562.64" r="1.83"/><circle cx="441.24" cy="559.37" r="1.83"/><circle cx="441.24" cy="556.1" r="1.83"/><circle cx="449.27" cy="575.72" r="1.83"/><circle cx="449.27" cy="572.45" r="1.83"/><circle cx="449.27" cy="569.18" r="1.83"/><circle cx="449.27" cy="565.91" r="1.83"/><circle cx="449.27" cy="562.64" r="1.83"/><circle cx="457.3" cy="575.72" r="1.83"/><circle cx="457.3" cy="572.45" r="1.83"/><circle cx="457.3" cy="569.18" r="1.83"/><circle cx="457.3" cy="565.91" r="1.83"/><circle cx="457.3" cy="562.64" r="1.83"/><circle cx="457.3" cy="559.37" r="1.83"/><circle cx="457.3" cy="556.1" r="1.83"/><circle cx="457.3" cy="552.83" r="1.83"/><circle cx="457.3" cy="549.56" r="1.83"/><circle cx="457.3" cy="546.29" r="1.83"/><circle cx="457.3" cy="543.02" r="1.83"/><circle cx="465.32" cy="575.72" r="1.83"/><circle cx="465.32" cy="572.45" r="1.83"/><circle cx="465.32" cy="569.18" r="1.83"/><circle cx="465.32" cy="565.91" r="1.83"/><circle cx="465.32" cy="562.64" r="1.83"/><circle cx="465.32" cy="559.37" r="1.83"/><circle cx="465.32" cy="556.1" r="1.83"/><circle cx="465.32" cy="552.83" r="1.83"/><circle cx="465.32" cy="549.56" r="1.83"/><circle cx="465.32" cy="546.29" r="1.83"/><circle cx="473.35" cy="575.72" r="1.83"/><circle cx="473.35" cy="572.45" r="1.83"/><circle cx="473.35" cy="569.18" r="1.83"/><circle cx="473.35" cy="565.91" r="1.83"/><circle cx="473.35" cy="562.64" r="1.83"/><circle cx="473.35" cy="559.37" r="1.83"/><circle cx="473.35" cy="556.1" r="1.83"/><circle cx="473.35" cy="552.83" r="1.83"/><circle cx="473.35" cy="549.56" r="1.83"/><circle cx="473.35" cy="546.29" r="1.83"/><circle cx="473.35" cy="543.02" r="1.83"/><circle cx="473.35" cy="539.75" r="1.83"/><circle cx="473.35" cy="536.48" r="1.83"/><circle cx="473.35" cy="533.21" r="1.83"/><circle cx="473.35" cy="529.94" r="1.83"/><circle cx="473.35" cy="526.67" r="1.83"/><circle cx="473.35" cy="523.4" r="1.83"/><circle cx="473.35" cy="520.13" r="1.83"/><circle cx="481.38" cy="575.72" r="1.83"/><circle cx="481.38" cy="572.45" r="1.83"/><circle cx="481.38" cy="569.18" r="1.83"/><circle cx="481.38" cy="565.91" r="1.83"/><circle cx="481.38" cy="562.64" r="1.83"/><circle cx="489.4" cy="575.72" r="1.83"/><circle cx="489.4" cy="572.45" r="1.83"/><circle cx="489.4" cy="569.18" r="1.83"/><circle cx="489.4" cy="565.91" r="1.83"/><circle cx="489.4" cy="562.64" r="1.83"/><circle cx="489.4" cy="559.37" r="1.83"/><circle cx="489.4" cy="556.1" r="1.83"/><circle cx="489.4" cy="552.83" r="1.83"/><circle cx="489.4" cy="549.56" r="1.83"/><circle cx="489.4" cy="546.29" r="1.83"/><circle cx="489.4" cy="543.02" r="1.83"/><circle cx="489.4" cy="539.75" r="1.83"/><circle cx="497.43" cy="575.72" r="1.83"/><circle cx="497.43" cy="572.45" r="1.83"/><circle cx="497.43" cy="569.18" r="1.83"/><circle cx="497.43" cy="565.91" r="1.83"/><circle cx="497.43" cy="562.64" r="1.83"/><circle cx="497.43" cy="559.37" r="1.83"/><circle cx="497.43" cy="556.1" r="1.83"/><circle cx="497.43" cy="552.83" r="1.83"/><circle cx="497.43" cy="549.56" r="1.83"/><circle cx="497.43" cy="546.29" r="1.83"/><circle cx="497.43" cy="543.02" r="1.83"/><circle cx="497.43" cy="539.75" r="1.83"/><circle cx="505.46" cy="575.72" r="1.83"/><circle cx="505.46" cy="572.45" r="1.83"/><circle cx="505.46" cy="569.18" r="1.83"/><circle cx="505.46" cy="565.91" r="1.83"/><circle cx="505.46" cy="562.64" r="1.83"/><circle cx="505.46" cy="559.37" r="1.83"/><circle cx="505.46" cy="556.1" r="1.83"/><circle cx="505.46" cy="552.83" r="1.83"/><circle cx="505.46" cy="549.56" r="1.83"/><circle cx="505.46" cy="546.29" r="1.83"/><circle cx="505.46" cy="543.02" r="1.83"/><circle cx="505.46" cy="539.75" r="1.83"/><circle cx="505.46" cy="536.48" r="1.83"/><circle cx="513.48" cy="575.72" r="1.83"/><circle cx="513.48" cy="572.45" r="1.83"/><circle cx="513.48" cy="569.18" r="1.83"/><circle cx="513.48" cy="565.91" r="1.83"/><circle cx="513.48" cy="562.64" r="1.83"/><circle cx="513.48" cy="559.37" r="1.83"/><circle cx="513.48" cy="556.1" r="1.83"/><circle cx="513.48" cy="552.83" r="1.83"/><circle cx="521.51" cy="575.72" r="1.83"/><circle cx="521.51" cy="572.45" r="1.83"/><circle cx="521.51" cy="569.18" r="1.83"/><circle cx="521.51" cy="565.91" r="1.83"/><circle cx="521.51" cy="562.64" r="1.83"/><circle cx="521.51" cy="559.37" r="1.83"/><circle cx="521.51" cy="556.1" r="1.83"/><circle cx="521.51" cy="552.83" r="1.83"/><circle cx="521.51" cy="549.56" r="1.83"/><circle cx="521.51" cy="546.29" r="1.83"/><circle cx="521.51" cy="543.02" r="1.83"/><circle cx="521.51" cy="539.75" r="1.83"/><circle cx="521.51" cy="536.48" r="1.83"/><circle cx="521.51" cy="533.21" r="1.83"/><circle cx="521.51" cy="529.94" r="1.83"/><circle cx="529.54" cy="575.72" r="1.83"/><circle cx="529.54" cy="572.45" r="1.83"/><circle cx="529.54" cy="569.18" r="1.83"/><circle cx="529.54" cy="565.91" r="1.83"/><circle cx="529.54" cy="562.64" r="1.83"/><circle cx="529.54" cy="559.37" r="1.83"/><circle cx="529.54" cy="556.1" r="1.83"/><circle cx="529.54" cy="552.83" r="1.83"/><circle cx="529.54" cy="549.56" r="1.83"/><circle cx="529.54" cy="546.29" r="1.83"/><circle cx="529.54" cy="543.02" r="1.83"/><circle cx="529.54" cy="539.75" r="1.83"/><circle cx="529.54" cy="536.48" r="1.83"/><circle cx="529.54" cy="533.21" r="1.83"/><circle cx="529.54" cy="529.94" r="1.83"/><circle cx="529.54" cy="526.67" r="1.83"/><circle cx="529.54" cy="523.4" r="1.83"/><circle cx="529.54" cy="520.13" r="1.83"/><circle cx="529.54" cy="516.86" r="1.83"/><circle cx="529.54" cy="513.59" r="1.83"/><circle cx="529.54" cy="510.32" r="1.83"/><circle cx="529.54" cy="507.05" r="1.83"/><circle cx="529.54" cy="503.78" r="1.83"/><circle cx="529.54" cy="500.51" r="1.83"/><circle cx="529.54" cy="497.24" r="1.83"/><circle cx="529.54" cy="493.97" r="1.83"/><circle cx="529.54" cy="490.7" r="1.83"/><circle cx="537.57" cy="575.72" r="1.83"/><circle cx="537.57" cy="572.45" r="1.83"/><circle cx="537.57" cy="569.18" r="1.83"/><circle cx="537.57" cy="565.91" r="1.83"/><circle cx="537.57" cy="562.64" r="1.83"/><circle cx="537.57" cy="559.37" r="1.83"/><circle cx="537.57" cy="556.1" r="1.83"/><circle cx="537.57" cy="552.83" r="1.83"/><circle cx="537.57" cy="549.56" r="1.83"/><circle cx="537.57" cy="546.29" r="1.83"/><circle cx="537.57" cy="543.02" r="1.83"/><circle cx="537.57" cy="539.75" r="1.83"/><circle cx="537.57" cy="536.48" r="1.83"/><circle cx="537.57" cy="533.21" r="1.83"/><circle cx="545.59" cy="575.72" r="1.83"/><circle cx="545.59" cy="572.45" r="1.83"/><circle cx="545.59" cy="569.18" r="1.83"/><circle cx="545.59" cy="565.91" r="1.83"/><circle cx="545.59" cy="562.64" r="1.83"/><circle cx="545.59" cy="559.37" r="1.83"/><circle cx="545.59" cy="556.1" r="1.83"/><circle cx="545.59" cy="552.83" r="1.83"/><circle cx="545.59" cy="549.56" r="1.83"/><circle cx="545.59" cy="546.29" r="1.83"/><circle cx="553.62" cy="575.72" r="1.83"/><circle cx="553.62" cy="572.45" r="1.83"/><circle cx="553.62" cy="569.18" r="1.83"/><circle cx="553.62" cy="565.91" r="1.83"/><circle cx="553.62" cy="562.64" r="1.83"/><circle cx="553.62" cy="559.37" r="1.83"/><circle cx="553.62" cy="556.1" r="1.83"/><circle cx="553.62" cy="552.83" r="1.83"/><circle cx="553.62" cy="549.56" r="1.83"/><circle cx="553.62" cy="546.29" r="1.83"/><circle cx="553.62" cy="543.02" r="1.83"/><circle cx="553.62" cy="539.75" r="1.83"/><circle cx="553.62" cy="536.48" r="1.83"/><circle cx="561.65" cy="575.72" r="1.83"/><circle cx="561.65" cy="572.45" r="1.83"/><circle cx="561.65" cy="569.18" r="1.83"/><circle cx="561.65" cy="565.91" r="1.83"/><circle cx="561.65" cy="562.64" r="1.83"/><circle cx="561.65" cy="559.37" r="1.83"/><circle cx="561.65" cy="556.1" r="1.83"/><circle cx="561.65" cy="552.83" r="1.83"/><circle cx="561.65" cy="549.56" r="1.83"/><circle cx="561.65" cy="546.29" r="1.83"/><circle cx="561.65" cy="543.02" r="1.83"/><circle cx="561.65" cy="539.75" r="1.83"/><circle cx="561.65" cy="536.48" r="1.83"/><circle cx="561.65" cy="533.21" r="1.83"/><circle cx="561.65" cy="529.94" r="1.83"/><circle cx="561.65" cy="526.67" r="1.83"/><circle cx="561.65" cy="523.4" r="1.83"/><circle cx="561.65" cy="520.13" r="1.83"/><circle cx="561.65" cy="516.86" r="1.83"/><circle cx="561.65" cy="513.59" r="1.83"/><circle cx="561.65" cy="510.32" r="1.83"/><circle cx="561.65" cy="507.05" r="1.83"/><circle cx="561.65" cy="503.78" r="1.83"/><circle cx="561.65" cy="500.51" r="1.83"/><circle cx="561.65" cy="497.24" r="1.83"/><circle cx="561.65" cy="493.97" r="1.83"/><circle cx="561.65" cy="490.7" r="1.83"/><circle cx="561.65" cy="487.43" r="1.83"/><circle cx="561.65" cy="484.16" r="1.83"/><circle cx="561.65" cy="480.89" r="1.83"/><circle cx="569.67" cy="575.72" r="1.83"/><circle cx="569.67" cy="572.45" r="1.83"/><circle cx="569.67" cy="569.18" r="1.83"/><circle cx="569.67" cy="565.91" r="1.83"/><circle cx="569.67" cy="562.64" r="1.83"/><circle cx="569.67" cy="559.37" r="1.83"/><circle cx="569.67" cy="556.1" r="1.83"/><circle cx="569.67" cy="552.83" r="1.83"/><circle cx="569.67" cy="549.56" r="1.83"/><circle cx="577.7" cy="575.72" r="1.83"/><circle cx="577.7" cy="572.45" r="1.83"/><circle cx="577.7" cy="569.18" r="1.83"/><circle cx="577.7" cy="565.91" r="1.83"/><circle cx="577.7" cy="562.64" r="1.83"/><circle cx="577.7" cy="559.37" r="1.83"/><circle cx="577.7" cy="556.1" r="1.83"/><circle cx="577.7" cy="552.83" r="1.83"/><circle cx="577.7" cy="549.56" r="1.83"/><circle cx="577.7" cy="546.29" r="1.83"/><circle cx="577.7" cy="543.02" r="1.83"/><circle cx="577.7" cy="539.75" r="1.83"/><circle cx="577.7" cy="536.48" r="1.83"/><circle cx="577.7" cy="533.21" r="1.83"/><circle cx="577.7" cy="529.94" r="1.83"/><circle cx="577.7" cy="526.67" r="1.83"/><circle cx="577.7" cy="523.4" r="1.83"/><circle cx="577.7" cy="520.13" r="1.83"/><circle cx="585.73" cy="575.72" r="1.83"/><circle cx="585.73" cy="572.45" r="1.83"/><circle cx="585.73" cy="569.18" r="1.83"/><circle cx="585.73" cy="565.91" r="1.83"/><circle cx="585.73" cy="562.64" r="1.83"/><circle cx="585.73" cy="559.37" r="1.83"/><circle cx="585.73" cy="556.1" r="1.83"/><circle cx="585.73" cy="552.83" r="1.83"/><circle cx="593.75" cy="575.72" r="1.83"/><circle cx="593.75" cy="572.45" r="1.83"/><circle cx="593.75" cy="569.18" r="1.83"/><circle cx="593.75" cy="565.91" r="1.83"/><circle cx="593.75" cy="562.64" r="1.83"/><circle cx="593.75" cy="559.37" r="1.83"/><circle cx="593.75" cy="556.1" r="1.83"/><circle cx="593.75" cy="552.83" r="1.83"/><circle cx="593.75" cy="549.56" r="1.83"/><circle cx="593.75" cy="546.29" r="1.83"/><circle cx="593.75" cy="543.02" r="1.83"/><circle cx="593.75" cy="539.75" r="1.83"/><circle cx="593.75" cy="536.48" r="1.83"/><circle cx="593.75" cy="533.21" r="1.83"/><circle cx="593.75" cy="529.94" r="1.83"/><circle cx="601.78" cy="575.72" r="1.83"/><circle cx="601.78" cy="572.45" r="1.83"/><circle cx="601.78" cy="569.18" r="1.83"/><circle cx="601.78" cy="565.91" r="1.83"/><circle cx="601.78" cy="562.64" r="1.83"/><circle cx="601.78" cy="559.37" r="1.83"/><circle cx="601.78" cy="556.1" r="1.83"/><circle cx="601.78" cy="552.83" r="1.83"/><circle cx="601.78" cy="549.56" r="1.83"/><circle cx="601.78" cy="546.29" r="1.83"/><circle cx="601.78" cy="543.02" r="1.83"/><circle cx="601.78" cy="539.75" r="1.83"/><circle cx="601.78" cy="536.48" r="1.83"/><circle cx="601.78" cy="533.21" r="1.83"/><circle cx="601.78" cy="529.94" r="1.83"/><circle cx="601.78" cy="526.67" r="1.83"/><circle cx="601.78" cy="523.4" r="1.83"/><circle cx="601.78" cy="520.13" r="1.83"/><circle cx="601.78" cy="516.86" r="1.83"/><circle cx="601.78" cy="513.59" r="1.83"/><circle cx="601.78" cy="510.32" r="1.83"/><circle cx="601.78" cy="507.05" r="1.83"/><circle cx="601.78" cy="503.78" r="1.83"/><circle cx="609.81" cy="575.72" r="1.83"/><circle cx="609.81" cy="572.45" r="1.83"/><circle cx="609.81" cy="569.18" r="1.83"/><circle cx="609.81" cy="565.91" r="1.83"/><circle cx="609.81" cy="562.64" r="1.83"/><circle cx="609.81" cy="559.37" r="1.83"/><circle cx="609.81" cy="556.1" r="1.83"/><circle cx="609.81" cy="552.83" r="1.83"/><circle cx="609.81" cy="549.56" r="1.83"/><circle cx="609.81" cy="546.29" r="1.83"/><circle cx="617.84" cy="575.72" r="1.83"/><circle cx="617.84" cy="572.45" r="1.83"/><circle cx="617.84" cy="569.18" r="1.83"/><circle cx="617.84" cy="565.91" r="1.83"/><circle cx="617.84" cy="562.64" r="1.83"/><circle cx="617.84" cy="559.37" r="1.83"/><circle cx="617.84" cy="556.1" r="1.83"/><circle cx="617.84" cy="552.83" r="1.83"/><circle cx="617.84" cy="549.56" r="1.83"/><circle cx="617.84" cy="546.29" r="1.83"/><circle cx="617.84" cy="543.02" r="1.83"/><circle cx="617.84" cy="539.75" r="1.83"/><circle cx="617.84" cy="536.48" r="1.83"/><circle cx="617.84" cy="533.21" r="1.83"/><circle cx="617.84" cy="529.94" r="1.83"/><circle cx="617.84" cy="526.67" r="1.83"/><circle cx="617.84" cy="523.4" r="1.83"/><circle cx="617.84" cy="520.13" r="1.83"/><circle cx="617.84" cy="516.86" r="1.83"/><circle cx="617.84" cy="513.59" r="1.83"/><circle cx="617.84" cy="510.32" r="1.83"/><circle cx="617.84" cy="507.05" r="1.83"/><circle cx="617.84" cy="503.78" r="1.83"/><circle cx="625.86" cy="575.72" r="1.83"/><circle cx="625.86" cy="572.45" r="1.83"/><circle cx="625.86" cy="569.18" r="1.83"/><circle cx="625.86" cy="565.91" r="1.83"/><circle cx="625.86" cy="562.64" r="1.83"/><circle cx="625.86" cy="559.37" r="1.83"/><circle cx="625.86" cy="556.1" r="1.83"/><circle cx="625.86" cy="552.83" r="1.83"/><circle cx="625.86" cy="549.56" r="1.83"/><circle cx="625.86" cy="546.29" r="1.83"/><circle cx="625.86" cy="543.02" r="1.83"/><circle cx="625.86" cy="539.75" r="1.83"/><circle cx="625.86" cy="536.48" r="1.83"/><circle cx="625.86" cy="533.21" r="1.83"/><circle cx="633.89" cy="575.72" r="1.83"/><circle cx="633.89" cy="572.45" r="1.83"/><circle cx="633.89" cy="569.18" r="1.83"/><circle cx="633.89" cy="565.91" r="1.83"/><circle cx="633.89" cy="562.64" r="1.83"/><circle cx="633.89" cy="559.37" r="1.83"/><circle cx="633.89" cy="556.1" r="1.83"/><circle cx="633.89" cy="552.83" r="1.83"/><circle cx="633.89" cy="549.56" r="1.83"/><circle cx="633.89" cy="546.29" r="1.83"/><circle cx="633.89" cy="543.02" r="1.83"/><circle cx="633.89" cy="539.75" r="1.83"/><circle cx="633.89" cy="536.48" r="1.83"/><circle cx="633.89" cy="533.21" r="1.83"/><circle cx="633.89" cy="529.94" r="1.83"/><circle cx="633.89" cy="526.67" r="1.83"/><circle cx="633.89" cy="523.4" r="1.83"/><circle cx="633.89" cy="520.13" r="1.83"/><circle cx="641.92" cy="575.72" r="1.83"/><circle cx="641.92" cy="572.45" r="1.83"/><circle cx="641.92" cy="569.18" r="1.83"/><circle cx="641.92" cy="565.91" r="1.83"/><circle cx="641.92" cy="562.64" r="1.83"/><circle cx="641.92" cy="559.37" r="1.83"/><circle cx="641.92" cy="556.1" r="1.83"/><circle cx="641.92" cy="552.83" r="1.83"/><circle cx="641.92" cy="549.56" r="1.83"/><circle cx="641.92" cy="546.29" r="1.83"/><circle cx="641.92" cy="543.02" r="1.83"/><circle cx="641.92" cy="539.75" r="1.83"/><circle cx="641.92" cy="536.48" r="1.83"/><circle cx="641.92" cy="533.21" r="1.83"/><circle cx="641.92" cy="529.94" r="1.83"/><circle cx="641.92" cy="526.67" r="1.83"/><circle cx="641.92" cy="523.4" r="1.83"/><circle cx="641.92" cy="520.13" r="1.83"/><circle cx="641.92" cy="516.86" r="1.83"/><circle cx="641.92" cy="513.59" r="1.83"/><circle cx="641.92" cy="510.32" r="1.83"/><circle cx="641.92" cy="507.05" r="1.83"/></g>
<text transform="translate(677 522.9) rotate(90)" text-anchor="middle" font-size="11.0" fill="#262626">ACCESS−CM2</text>
<text x="152.3" y="489.6" text-anchor="middle" font-size="13.2" fill="#000">n = 9</text>
<line x1="43.6" y1="589.85" x2="43.6" y2="709.7" stroke="#1a1a1a" stroke-width="1.15"/>
<line x1="40.1" y1="595.25" x2="43.6" y2="595.25" stroke="#333" stroke-width="1.1"/>
<text x="37.7" y="599.1" text-anchor="end" font-size="11.0" fill="#4d4d4d">1.00</text>
<line x1="40.1" y1="622.47" x2="43.6" y2="622.47" stroke="#333" stroke-width="1.1"/>
<text x="37.7" y="626.32" text-anchor="end" font-size="11.0" fill="#4d4d4d">0.75</text>
<line x1="40.1" y1="649.7" x2="43.6" y2="649.7" stroke="#333" stroke-width="1.1"/>
<text x="37.7" y="653.55" text-anchor="end" font-size="11.0" fill="#4d4d4d">0.50</text>
<line x1="40.1" y1="676.93" x2="43.6" y2="676.93" stroke="#333" stroke-width="1.1"/>
<text x="37.7" y="680.78" text-anchor="end" font-size="11.0" fill="#4d4d4d">0.25</text>
<line x1="40.1" y1="704.15" x2="43.6" y2="704.15" stroke="#333" stroke-width="1.1"/>
<text x="37.7" y="708" text-anchor="end" font-size="11.0" fill="#4d4d4d">0.00</text>
<g fill="#b2b2b3"><circle cx="72" cy="701.7" r="2.55"/><circle cx="72" cy="696.8" r="2.55"/><circle cx="80.03" cy="701.7" r="2.55"/><circle cx="80.03" cy="696.8" r="2.55"/><circle cx="80.03" cy="691.9" r="2.55"/><circle cx="80.03" cy="687" r="2.55"/><circle cx="88.05" cy="701.7" r="2.55"/><circle cx="88.05" cy="696.8" r="2.55"/><circle cx="88.05" cy="691.9" r="2.55"/><circle cx="88.05" cy="687" r="2.55"/><circle cx="88.05" cy="682.1" r="2.55"/><circle cx="96.08" cy="701.7" r="2.55"/><circle cx="96.08" cy="696.8" r="2.55"/><circle cx="96.08" cy="691.9" r="2.55"/><circle cx="104.11" cy="701.7" r="2.55"/><circle cx="104.11" cy="696.8" r="2.55"/><circle cx="104.11" cy="691.9" r="2.55"/><circle cx="120.16" cy="701.7" r="2.55"/><circle cx="120.16" cy="696.8" r="2.55"/><circle cx="128.19" cy="701.7" r="2.55"/><circle cx="128.19" cy="696.8" r="2.55"/><circle cx="128.19" cy="691.9" r="2.55"/><circle cx="128.19" cy="687" r="2.55"/><circle cx="128.19" cy="682.1" r="2.55"/><circle cx="128.19" cy="677.2" r="2.55"/><circle cx="128.19" cy="672.3" r="2.55"/><circle cx="128.19" cy="667.4" r="2.55"/><circle cx="128.19" cy="662.5" r="2.55"/><circle cx="128.19" cy="657.6" r="2.55"/><circle cx="128.19" cy="652.7" r="2.55"/><circle cx="128.19" cy="647.8" r="2.55"/><circle cx="128.19" cy="642.9" r="2.55"/><circle cx="128.19" cy="638" r="2.55"/><circle cx="128.19" cy="633.1" r="2.55"/><circle cx="128.19" cy="628.2" r="2.55"/><circle cx="128.19" cy="623.3" r="2.55"/><circle cx="136.22" cy="701.7" r="2.55"/><circle cx="136.22" cy="696.8" r="2.55"/><circle cx="136.22" cy="691.9" r="2.55"/><circle cx="136.22" cy="687" r="2.55"/><circle cx="136.22" cy="682.1" r="2.55"/><circle cx="144.24" cy="701.7" r="2.55"/><circle cx="144.24" cy="696.8" r="2.55"/><circle cx="144.24" cy="691.9" r="2.55"/><circle cx="144.24" cy="687" r="2.55"/><circle cx="144.24" cy="682.1" r="2.55"/><circle cx="160.3" cy="701.7" r="2.55"/><circle cx="168.32" cy="701.7" r="2.55"/><circle cx="168.32" cy="696.8" r="2.55"/><circle cx="168.32" cy="691.9" r="2.55"/><circle cx="176.35" cy="701.7" r="2.55"/><circle cx="184.38" cy="701.7" r="2.55"/><circle cx="184.38" cy="696.8" r="2.55"/><circle cx="184.38" cy="691.9" r="2.55"/><circle cx="184.38" cy="687" r="2.55"/><circle cx="184.38" cy="682.1" r="2.55"/><circle cx="192.4" cy="701.7" r="2.55"/><circle cx="200.43" cy="701.7" r="2.55"/><circle cx="216.49" cy="701.7" r="2.55"/><circle cx="216.49" cy="696.8" r="2.55"/><circle cx="216.49" cy="691.9" r="2.55"/><circle cx="216.49" cy="687" r="2.55"/><circle cx="216.49" cy="682.1" r="2.55"/><circle cx="216.49" cy="677.2" r="2.55"/><circle cx="216.49" cy="672.3" r="2.55"/><circle cx="216.49" cy="667.4" r="2.55"/><circle cx="216.49" cy="662.5" r="2.55"/><circle cx="224.51" cy="701.7" r="2.55"/><circle cx="224.51" cy="696.8" r="2.55"/><circle cx="224.51" cy="691.9" r="2.55"/><circle cx="224.51" cy="687" r="2.55"/><circle cx="224.51" cy="682.1" r="2.55"/><circle cx="224.51" cy="677.2" r="2.55"/><circle cx="224.51" cy="672.3" r="2.55"/><circle cx="224.51" cy="667.4" r="2.55"/><circle cx="224.51" cy="662.5" r="2.55"/><circle cx="224.51" cy="657.6" r="2.55"/><circle cx="224.51" cy="652.7" r="2.55"/><circle cx="224.51" cy="647.8" r="2.55"/><circle cx="232.54" cy="701.7" r="2.55"/><circle cx="232.54" cy="696.8" r="2.55"/><circle cx="232.54" cy="691.9" r="2.55"/><circle cx="232.54" cy="687" r="2.55"/><circle cx="240.57" cy="701.7" r="2.55"/><circle cx="240.57" cy="696.8" r="2.55"/><circle cx="240.57" cy="691.9" r="2.55"/><circle cx="240.57" cy="687" r="2.55"/><circle cx="240.57" cy="682.1" r="2.55"/><circle cx="240.57" cy="677.2" r="2.55"/><circle cx="240.57" cy="672.3" r="2.55"/><circle cx="240.57" cy="667.4" r="2.55"/><circle cx="240.57" cy="662.5" r="2.55"/><circle cx="240.57" cy="657.6" r="2.55"/><circle cx="240.57" cy="652.7" r="2.55"/><circle cx="248.59" cy="701.7" r="2.55"/><circle cx="248.59" cy="696.8" r="2.55"/><circle cx="248.59" cy="691.9" r="2.55"/><circle cx="248.59" cy="687" r="2.55"/><circle cx="248.59" cy="682.1" r="2.55"/><circle cx="248.59" cy="677.2" r="2.55"/><circle cx="248.59" cy="672.3" r="2.55"/><circle cx="256.62" cy="701.7" r="2.55"/><circle cx="256.62" cy="696.8" r="2.55"/><circle cx="256.62" cy="691.9" r="2.55"/><circle cx="256.62" cy="687" r="2.55"/><circle cx="256.62" cy="682.1" r="2.55"/><circle cx="256.62" cy="677.2" r="2.55"/><circle cx="256.62" cy="672.3" r="2.55"/><circle cx="256.62" cy="667.4" r="2.55"/><circle cx="256.62" cy="662.5" r="2.55"/><circle cx="256.62" cy="657.6" r="2.55"/><circle cx="256.62" cy="652.7" r="2.55"/><circle cx="256.62" cy="647.8" r="2.55"/><circle cx="256.62" cy="642.9" r="2.55"/><circle cx="256.62" cy="638" r="2.55"/><circle cx="264.65" cy="701.7" r="2.55"/><circle cx="264.65" cy="696.8" r="2.55"/><circle cx="264.65" cy="691.9" r="2.55"/><circle cx="264.65" cy="687" r="2.55"/><circle cx="264.65" cy="682.1" r="2.55"/><circle cx="272.67" cy="701.7" r="2.55"/><circle cx="272.67" cy="696.8" r="2.55"/><circle cx="280.7" cy="701.7" r="2.55"/><circle cx="280.7" cy="696.8" r="2.55"/><circle cx="280.7" cy="691.9" r="2.55"/><circle cx="288.73" cy="701.7" r="2.55"/><circle cx="288.73" cy="696.8" r="2.55"/><circle cx="288.73" cy="691.9" r="2.55"/><circle cx="288.73" cy="687" r="2.55"/><circle cx="288.73" cy="682.1" r="2.55"/><circle cx="296.76" cy="701.7" r="2.55"/><circle cx="296.76" cy="696.8" r="2.55"/><circle cx="296.76" cy="691.9" r="2.55"/><circle cx="296.76" cy="687" r="2.55"/><circle cx="296.76" cy="682.1" r="2.55"/><circle cx="296.76" cy="677.2" r="2.55"/><circle cx="296.76" cy="672.3" r="2.55"/><circle cx="296.76" cy="667.4" r="2.55"/><circle cx="296.76" cy="662.5" r="2.55"/><circle cx="304.78" cy="701.7" r="2.55"/><circle cx="304.78" cy="696.8" r="2.55"/><circle cx="304.78" cy="691.9" r="2.55"/><circle cx="304.78" cy="687" r="2.55"/><circle cx="304.78" cy="682.1" r="2.55"/><circle cx="304.78" cy="677.2" r="2.55"/><circle cx="304.78" cy="672.3" r="2.55"/><circle cx="312.81" cy="701.7" r="2.55"/><circle cx="312.81" cy="696.8" r="2.55"/><circle cx="320.84" cy="701.7" r="2.55"/><circle cx="320.84" cy="696.8" r="2.55"/><circle cx="320.84" cy="691.9" r="2.55"/><circle cx="320.84" cy="687" r="2.55"/><circle cx="320.84" cy="682.1" r="2.55"/><circle cx="328.86" cy="701.7" r="2.55"/><circle cx="328.86" cy="696.8" r="2.55"/><circle cx="328.86" cy="691.9" r="2.55"/><circle cx="336.89" cy="701.7" r="2.55"/><circle cx="336.89" cy="696.8" r="2.55"/><circle cx="336.89" cy="691.9" r="2.55"/><circle cx="336.89" cy="687" r="2.55"/><circle cx="336.89" cy="682.1" r="2.55"/><circle cx="336.89" cy="677.2" r="2.55"/><circle cx="336.89" cy="672.3" r="2.55"/><circle cx="336.89" cy="667.4" r="2.55"/><circle cx="336.89" cy="662.5" r="2.55"/><circle cx="336.89" cy="657.6" r="2.55"/><circle cx="336.89" cy="652.7" r="2.55"/><circle cx="344.92" cy="701.7" r="2.55"/><circle cx="344.92" cy="696.8" r="2.55"/><circle cx="344.92" cy="691.9" r="2.55"/><circle cx="344.92" cy="687" r="2.55"/><circle cx="344.92" cy="682.1" r="2.55"/><circle cx="344.92" cy="677.2" r="2.55"/><circle cx="344.92" cy="672.3" r="2.55"/><circle cx="344.92" cy="667.4" r="2.55"/><circle cx="344.92" cy="662.5" r="2.55"/><circle cx="344.92" cy="657.6" r="2.55"/><circle cx="344.92" cy="652.7" r="2.55"/><circle cx="344.92" cy="647.8" r="2.55"/><circle cx="344.92" cy="642.9" r="2.55"/><circle cx="344.92" cy="638" r="2.55"/><circle cx="344.92" cy="633.1" r="2.55"/><circle cx="344.92" cy="628.2" r="2.55"/><circle cx="344.92" cy="623.3" r="2.55"/><circle cx="344.92" cy="618.4" r="2.55"/><circle cx="352.94" cy="701.7" r="2.55"/><circle cx="352.94" cy="696.8" r="2.55"/><circle cx="352.94" cy="691.9" r="2.55"/><circle cx="352.94" cy="687" r="2.55"/><circle cx="352.94" cy="682.1" r="2.55"/><circle cx="352.94" cy="677.2" r="2.55"/><circle cx="352.94" cy="672.3" r="2.55"/><circle cx="352.94" cy="667.4" r="2.55"/><circle cx="352.94" cy="662.5" r="2.55"/><circle cx="360.97" cy="701.7" r="2.55"/><circle cx="360.97" cy="696.8" r="2.55"/><circle cx="360.97" cy="691.9" r="2.55"/><circle cx="360.97" cy="687" r="2.55"/><circle cx="360.97" cy="682.1" r="2.55"/><circle cx="360.97" cy="677.2" r="2.55"/><circle cx="360.97" cy="672.3" r="2.55"/><circle cx="360.97" cy="667.4" r="2.55"/><circle cx="360.97" cy="662.5" r="2.55"/><circle cx="360.97" cy="657.6" r="2.55"/><circle cx="360.97" cy="652.7" r="2.55"/><circle cx="360.97" cy="647.8" r="2.55"/><circle cx="360.97" cy="642.9" r="2.55"/><circle cx="360.97" cy="638" r="2.55"/><circle cx="360.97" cy="633.1" r="2.55"/><circle cx="360.97" cy="628.2" r="2.55"/><circle cx="360.97" cy="623.3" r="2.55"/><circle cx="360.97" cy="618.4" r="2.55"/><circle cx="360.97" cy="613.5" r="2.55"/><circle cx="360.97" cy="608.6" r="2.55"/><circle cx="369" cy="701.7" r="2.55"/><circle cx="369" cy="696.8" r="2.55"/><circle cx="369" cy="691.9" r="2.55"/><circle cx="369" cy="687" r="2.55"/><circle cx="369" cy="682.1" r="2.55"/><circle cx="369" cy="677.2" r="2.55"/><circle cx="369" cy="672.3" r="2.55"/><circle cx="369" cy="667.4" r="2.55"/><circle cx="377.03" cy="701.7" r="2.55"/><circle cx="377.03" cy="696.8" r="2.55"/><circle cx="377.03" cy="691.9" r="2.55"/><circle cx="377.03" cy="687" r="2.55"/><circle cx="377.03" cy="682.1" r="2.55"/><circle cx="377.03" cy="677.2" r="2.55"/><circle cx="377.03" cy="672.3" r="2.55"/><circle cx="385.05" cy="701.7" r="2.55"/><circle cx="385.05" cy="696.8" r="2.55"/><circle cx="385.05" cy="691.9" r="2.55"/><circle cx="385.05" cy="687" r="2.55"/><circle cx="385.05" cy="682.1" r="2.55"/><circle cx="385.05" cy="677.2" r="2.55"/><circle cx="385.05" cy="672.3" r="2.55"/><circle cx="385.05" cy="667.4" r="2.55"/><circle cx="385.05" cy="662.5" r="2.55"/><circle cx="385.05" cy="657.6" r="2.55"/><circle cx="385.05" cy="652.7" r="2.55"/><circle cx="385.05" cy="647.8" r="2.55"/><circle cx="385.05" cy="642.9" r="2.55"/><circle cx="385.05" cy="638" r="2.55"/><circle cx="393.08" cy="701.7" r="2.55"/><circle cx="401.11" cy="701.7" r="2.55"/><circle cx="401.11" cy="696.8" r="2.55"/><circle cx="401.11" cy="691.9" r="2.55"/><circle cx="401.11" cy="687" r="2.55"/><circle cx="401.11" cy="682.1" r="2.55"/><circle cx="401.11" cy="677.2" r="2.55"/><circle cx="401.11" cy="672.3" r="2.55"/><circle cx="401.11" cy="667.4" r="2.55"/><circle cx="401.11" cy="662.5" r="2.55"/><circle cx="401.11" cy="657.6" r="2.55"/><circle cx="401.11" cy="652.7" r="2.55"/><circle cx="401.11" cy="647.8" r="2.55"/><circle cx="401.11" cy="642.9" r="2.55"/><circle cx="401.11" cy="638" r="2.55"/><circle cx="401.11" cy="633.1" r="2.55"/><circle cx="417.16" cy="701.7" r="2.55"/><circle cx="417.16" cy="696.8" r="2.55"/><circle cx="417.16" cy="691.9" r="2.55"/><circle cx="417.16" cy="687" r="2.55"/><circle cx="417.16" cy="682.1" r="2.55"/><circle cx="417.16" cy="677.2" r="2.55"/><circle cx="417.16" cy="672.3" r="2.55"/><circle cx="425.19" cy="701.7" r="2.55"/><circle cx="425.19" cy="696.8" r="2.55"/><circle cx="441.24" cy="701.7" r="2.55"/><circle cx="441.24" cy="696.8" r="2.55"/><circle cx="449.27" cy="701.7" r="2.55"/><circle cx="449.27" cy="696.8" r="2.55"/><circle cx="449.27" cy="691.9" r="2.55"/><circle cx="449.27" cy="687" r="2.55"/><circle cx="449.27" cy="682.1" r="2.55"/><circle cx="457.3" cy="701.7" r="2.55"/><circle cx="457.3" cy="696.8" r="2.55"/><circle cx="457.3" cy="691.9" r="2.55"/><circle cx="457.3" cy="687" r="2.55"/><circle cx="457.3" cy="682.1" r="2.55"/><circle cx="457.3" cy="677.2" r="2.55"/><circle cx="465.32" cy="701.7" r="2.55"/><circle cx="465.32" cy="696.8" r="2.55"/><circle cx="473.35" cy="701.7" r="2.55"/><circle cx="473.35" cy="696.8" r="2.55"/><circle cx="473.35" cy="691.9" r="2.55"/><circle cx="473.35" cy="687" r="2.55"/><circle cx="473.35" cy="682.1" r="2.55"/><circle cx="473.35" cy="677.2" r="2.55"/><circle cx="473.35" cy="672.3" r="2.55"/><circle cx="473.35" cy="667.4" r="2.55"/><circle cx="481.38" cy="701.7" r="2.55"/><circle cx="481.38" cy="696.8" r="2.55"/><circle cx="481.38" cy="691.9" r="2.55"/><circle cx="481.38" cy="687" r="2.55"/><circle cx="489.4" cy="701.7" r="2.55"/><circle cx="489.4" cy="696.8" r="2.55"/><circle cx="489.4" cy="691.9" r="2.55"/><circle cx="489.4" cy="687" r="2.55"/><circle cx="489.4" cy="682.1" r="2.55"/><circle cx="489.4" cy="677.2" r="2.55"/><circle cx="489.4" cy="672.3" r="2.55"/><circle cx="489.4" cy="667.4" r="2.55"/><circle cx="489.4" cy="662.5" r="2.55"/><circle cx="489.4" cy="657.6" r="2.55"/><circle cx="489.4" cy="652.7" r="2.55"/><circle cx="489.4" cy="647.8" r="2.55"/><circle cx="489.4" cy="642.9" r="2.55"/><circle cx="489.4" cy="638" r="2.55"/><circle cx="489.4" cy="633.1" r="2.55"/><circle cx="489.4" cy="628.2" r="2.55"/><circle cx="505.46" cy="701.7" r="2.55"/><circle cx="505.46" cy="696.8" r="2.55"/><circle cx="505.46" cy="691.9" r="2.55"/><circle cx="505.46" cy="687" r="2.55"/><circle cx="505.46" cy="682.1" r="2.55"/><circle cx="505.46" cy="677.2" r="2.55"/><circle cx="505.46" cy="672.3" r="2.55"/><circle cx="505.46" cy="667.4" r="2.55"/><circle cx="505.46" cy="662.5" r="2.55"/><circle cx="505.46" cy="657.6" r="2.55"/><circle cx="505.46" cy="652.7" r="2.55"/><circle cx="505.46" cy="647.8" r="2.55"/><circle cx="505.46" cy="642.9" r="2.55"/><circle cx="505.46" cy="638" r="2.55"/><circle cx="505.46" cy="633.1" r="2.55"/><circle cx="505.46" cy="628.2" r="2.55"/><circle cx="505.46" cy="623.3" r="2.55"/><circle cx="513.48" cy="701.7" r="2.55"/><circle cx="513.48" cy="696.8" r="2.55"/><circle cx="513.48" cy="691.9" r="2.55"/><circle cx="513.48" cy="687" r="2.55"/><circle cx="513.48" cy="682.1" r="2.55"/><circle cx="513.48" cy="677.2" r="2.55"/><circle cx="513.48" cy="672.3" r="2.55"/><circle cx="513.48" cy="667.4" r="2.55"/><circle cx="513.48" cy="662.5" r="2.55"/><circle cx="513.48" cy="657.6" r="2.55"/><circle cx="513.48" cy="652.7" r="2.55"/><circle cx="513.48" cy="647.8" r="2.55"/><circle cx="513.48" cy="642.9" r="2.55"/><circle cx="513.48" cy="638" r="2.55"/><circle cx="513.48" cy="633.1" r="2.55"/><circle cx="513.48" cy="628.2" r="2.55"/><circle cx="521.51" cy="701.7" r="2.55"/><circle cx="521.51" cy="696.8" r="2.55"/><circle cx="521.51" cy="691.9" r="2.55"/><circle cx="521.51" cy="687" r="2.55"/><circle cx="521.51" cy="682.1" r="2.55"/><circle cx="521.51" cy="677.2" r="2.55"/><circle cx="521.51" cy="672.3" r="2.55"/><circle cx="529.54" cy="701.7" r="2.55"/><circle cx="529.54" cy="696.8" r="2.55"/><circle cx="529.54" cy="691.9" r="2.55"/><circle cx="529.54" cy="687" r="2.55"/><circle cx="529.54" cy="682.1" r="2.55"/><circle cx="529.54" cy="677.2" r="2.55"/><circle cx="529.54" cy="672.3" r="2.55"/><circle cx="537.57" cy="701.7" r="2.55"/><circle cx="537.57" cy="696.8" r="2.55"/><circle cx="545.59" cy="701.7" r="2.55"/><circle cx="545.59" cy="696.8" r="2.55"/><circle cx="545.59" cy="691.9" r="2.55"/><circle cx="545.59" cy="687" r="2.55"/><circle cx="545.59" cy="682.1" r="2.55"/><circle cx="545.59" cy="677.2" r="2.55"/><circle cx="545.59" cy="672.3" r="2.55"/><circle cx="545.59" cy="667.4" r="2.55"/><circle cx="545.59" cy="662.5" r="2.55"/><circle cx="545.59" cy="657.6" r="2.55"/><circle cx="545.59" cy="652.7" r="2.55"/><circle cx="545.59" cy="647.8" r="2.55"/><circle cx="561.65" cy="701.7" r="2.55"/><circle cx="561.65" cy="696.8" r="2.55"/><circle cx="561.65" cy="691.9" r="2.55"/><circle cx="561.65" cy="687" r="2.55"/><circle cx="561.65" cy="682.1" r="2.55"/><circle cx="561.65" cy="677.2" r="2.55"/><circle cx="561.65" cy="672.3" r="2.55"/><circle cx="569.67" cy="701.7" r="2.55"/><circle cx="569.67" cy="696.8" r="2.55"/><circle cx="569.67" cy="691.9" r="2.55"/><circle cx="569.67" cy="687" r="2.55"/><circle cx="569.67" cy="682.1" r="2.55"/><circle cx="569.67" cy="677.2" r="2.55"/><circle cx="569.67" cy="672.3" r="2.55"/><circle cx="569.67" cy="667.4" r="2.55"/><circle cx="569.67" cy="662.5" r="2.55"/><circle cx="577.7" cy="701.7" r="2.55"/><circle cx="577.7" cy="696.8" r="2.55"/><circle cx="577.7" cy="691.9" r="2.55"/><circle cx="577.7" cy="687" r="2.55"/><circle cx="585.73" cy="701.7" r="2.55"/><circle cx="585.73" cy="696.8" r="2.55"/><circle cx="585.73" cy="691.9" r="2.55"/><circle cx="585.73" cy="687" r="2.55"/><circle cx="585.73" cy="682.1" r="2.55"/><circle cx="585.73" cy="677.2" r="2.55"/><circle cx="585.73" cy="672.3" r="2.55"/><circle cx="585.73" cy="667.4" r="2.55"/><circle cx="585.73" cy="662.5" r="2.55"/><circle cx="585.73" cy="657.6" r="2.55"/><circle cx="585.73" cy="652.7" r="2.55"/><circle cx="585.73" cy="647.8" r="2.55"/><circle cx="585.73" cy="642.9" r="2.55"/><circle cx="585.73" cy="638" r="2.55"/><circle cx="585.73" cy="633.1" r="2.55"/><circle cx="585.73" cy="628.2" r="2.55"/><circle cx="585.73" cy="623.3" r="2.55"/><circle cx="593.75" cy="701.7" r="2.55"/><circle cx="593.75" cy="696.8" r="2.55"/><circle cx="593.75" cy="691.9" r="2.55"/><circle cx="593.75" cy="687" r="2.55"/><circle cx="593.75" cy="682.1" r="2.55"/><circle cx="593.75" cy="677.2" r="2.55"/><circle cx="601.78" cy="701.7" r="2.55"/><circle cx="601.78" cy="696.8" r="2.55"/><circle cx="601.78" cy="691.9" r="2.55"/><circle cx="601.78" cy="687" r="2.55"/><circle cx="601.78" cy="682.1" r="2.55"/><circle cx="601.78" cy="677.2" r="2.55"/><circle cx="625.86" cy="701.7" r="2.55"/><circle cx="625.86" cy="696.8" r="2.55"/><circle cx="625.86" cy="691.9" r="2.55"/><circle cx="625.86" cy="687" r="2.55"/><circle cx="625.86" cy="682.1" r="2.55"/><circle cx="625.86" cy="677.2" r="2.55"/><circle cx="633.89" cy="701.7" r="2.55"/><circle cx="633.89" cy="696.8" r="2.55"/><circle cx="641.92" cy="701.7" r="2.55"/><circle cx="641.92" cy="696.8" r="2.55"/><circle cx="641.92" cy="691.9" r="2.55"/></g>
<text transform="translate(677 649.7) rotate(90)" text-anchor="middle" font-size="11.0" fill="#262626">CESM2</text>
<text x="152.3" y="616.4" text-anchor="middle" font-size="13.2" fill="#000">n = 6</text>
<line x1="43.6" y1="716.35" x2="43.6" y2="836.65" stroke="#1a1a1a" stroke-width="1.15"/>
<line x1="40.1" y1="721.75" x2="43.6" y2="721.75" stroke="#333" stroke-width="1.1"/>
<text x="37.7" y="725.6" text-anchor="end" font-size="11.0" fill="#4d4d4d">1.00</text>
<line x1="40.1" y1="748.97" x2="43.6" y2="748.97" stroke="#333" stroke-width="1.1"/>
<text x="37.7" y="752.82" text-anchor="end" font-size="11.0" fill="#4d4d4d">0.75</text>
<line x1="40.1" y1="776.2" x2="43.6" y2="776.2" stroke="#333" stroke-width="1.1"/>
<text x="37.7" y="780.05" text-anchor="end" font-size="11.0" fill="#4d4d4d">0.50</text>
<line x1="40.1" y1="803.43" x2="43.6" y2="803.43" stroke="#333" stroke-width="1.1"/>
<text x="37.7" y="807.28" text-anchor="end" font-size="11.0" fill="#4d4d4d">0.25</text>
<line x1="40.1" y1="830.65" x2="43.6" y2="830.65" stroke="#333" stroke-width="1.1"/>
<text x="37.7" y="834.5" text-anchor="end" font-size="11.0" fill="#4d4d4d">0.00</text>
<g fill="#b2b2b3"><circle cx="72" cy="829.38" r="1.42"/><circle cx="72" cy="826.83" r="1.42"/><circle cx="72" cy="824.28" r="1.42"/><circle cx="72" cy="821.73" r="1.42"/><circle cx="88.05" cy="829.38" r="1.42"/><circle cx="88.05" cy="826.83" r="1.42"/><circle cx="88.05" cy="824.28" r="1.42"/><circle cx="96.08" cy="829.38" r="1.42"/><circle cx="96.08" cy="826.83" r="1.42"/><circle cx="120.16" cy="829.38" r="1.42"/><circle cx="120.16" cy="826.83" r="1.42"/><circle cx="120.16" cy="824.28" r="1.42"/><circle cx="120.16" cy="821.73" r="1.42"/><circle cx="120.16" cy="819.18" r="1.42"/><circle cx="120.16" cy="816.63" r="1.42"/><circle cx="128.19" cy="829.38" r="1.42"/><circle cx="128.19" cy="826.83" r="1.42"/><circle cx="128.19" cy="824.28" r="1.42"/><circle cx="128.19" cy="821.73" r="1.42"/><circle cx="128.19" cy="819.18" r="1.42"/><circle cx="136.22" cy="829.38" r="1.42"/><circle cx="136.22" cy="826.83" r="1.42"/><circle cx="136.22" cy="824.28" r="1.42"/><circle cx="136.22" cy="821.73" r="1.42"/><circle cx="136.22" cy="819.18" r="1.42"/><circle cx="144.24" cy="829.38" r="1.42"/><circle cx="144.24" cy="826.83" r="1.42"/><circle cx="144.24" cy="824.28" r="1.42"/><circle cx="152.27" cy="829.38" r="1.42"/><circle cx="152.27" cy="826.83" r="1.42"/><circle cx="152.27" cy="824.28" r="1.42"/><circle cx="152.27" cy="821.73" r="1.42"/><circle cx="152.27" cy="819.18" r="1.42"/><circle cx="160.3" cy="829.38" r="1.42"/><circle cx="160.3" cy="826.83" r="1.42"/><circle cx="160.3" cy="824.28" r="1.42"/><circle cx="168.32" cy="829.38" r="1.42"/><circle cx="168.32" cy="826.83" r="1.42"/><circle cx="176.35" cy="829.38" r="1.42"/><circle cx="176.35" cy="826.83" r="1.42"/><circle cx="176.35" cy="824.28" r="1.42"/><circle cx="176.35" cy="821.73" r="1.42"/><circle cx="176.35" cy="819.18" r="1.42"/><circle cx="176.35" cy="816.63" r="1.42"/><circle cx="176.35" cy="814.08" r="1.42"/><circle cx="176.35" cy="811.53" r="1.42"/><circle cx="184.38" cy="829.38" r="1.42"/><circle cx="184.38" cy="826.83" r="1.42"/><circle cx="184.38" cy="824.28" r="1.42"/><circle cx="192.4" cy="829.38" r="1.42"/><circle cx="192.4" cy="826.83" r="1.42"/><circle cx="192.4" cy="824.28" r="1.42"/><circle cx="192.4" cy="821.73" r="1.42"/><circle cx="192.4" cy="819.18" r="1.42"/><circle cx="208.46" cy="829.38" r="1.42"/><circle cx="208.46" cy="826.83" r="1.42"/><circle cx="208.46" cy="824.28" r="1.42"/><circle cx="208.46" cy="821.73" r="1.42"/><circle cx="208.46" cy="819.18" r="1.42"/><circle cx="216.49" cy="829.38" r="1.42"/><circle cx="216.49" cy="826.83" r="1.42"/><circle cx="216.49" cy="824.28" r="1.42"/><circle cx="216.49" cy="821.73" r="1.42"/><circle cx="224.51" cy="829.38" r="1.42"/><circle cx="224.51" cy="826.83" r="1.42"/><circle cx="224.51" cy="824.28" r="1.42"/><circle cx="224.51" cy="821.73" r="1.42"/><circle cx="224.51" cy="819.18" r="1.42"/><circle cx="224.51" cy="816.63" r="1.42"/><circle cx="240.57" cy="829.38" r="1.42"/><circle cx="240.57" cy="826.83" r="1.42"/><circle cx="240.57" cy="824.28" r="1.42"/><circle cx="240.57" cy="821.73" r="1.42"/><circle cx="240.57" cy="819.18" r="1.42"/><circle cx="240.57" cy="816.63" r="1.42"/><circle cx="240.57" cy="814.08" r="1.42"/><circle cx="240.57" cy="811.53" r="1.42"/><circle cx="248.59" cy="829.38" r="1.42"/><circle cx="248.59" cy="826.83" r="1.42"/><circle cx="248.59" cy="824.28" r="1.42"/><circle cx="248.59" cy="821.73" r="1.42"/><circle cx="248.59" cy="819.18" r="1.42"/><circle cx="248.59" cy="816.63" r="1.42"/><circle cx="248.59" cy="814.08" r="1.42"/><circle cx="256.62" cy="829.38" r="1.42"/><circle cx="256.62" cy="826.83" r="1.42"/><circle cx="256.62" cy="824.28" r="1.42"/><circle cx="256.62" cy="821.73" r="1.42"/><circle cx="264.65" cy="829.38" r="1.42"/><circle cx="264.65" cy="826.83" r="1.42"/><circle cx="272.67" cy="829.38" r="1.42"/><circle cx="272.67" cy="826.83" r="1.42"/><circle cx="272.67" cy="824.28" r="1.42"/><circle cx="272.67" cy="821.73" r="1.42"/><circle cx="272.67" cy="819.18" r="1.42"/><circle cx="272.67" cy="816.63" r="1.42"/><circle cx="272.67" cy="814.08" r="1.42"/><circle cx="280.7" cy="829.38" r="1.42"/><circle cx="280.7" cy="826.83" r="1.42"/><circle cx="280.7" cy="824.28" r="1.42"/><circle cx="280.7" cy="821.73" r="1.42"/><circle cx="280.7" cy="819.18" r="1.42"/><circle cx="288.73" cy="829.38" r="1.42"/><circle cx="288.73" cy="826.83" r="1.42"/><circle cx="288.73" cy="824.28" r="1.42"/><circle cx="296.76" cy="829.38" r="1.42"/><circle cx="296.76" cy="826.83" r="1.42"/><circle cx="296.76" cy="824.28" r="1.42"/><circle cx="312.81" cy="829.38" r="1.42"/><circle cx="312.81" cy="826.83" r="1.42"/><circle cx="312.81" cy="824.28" r="1.42"/><circle cx="312.81" cy="821.73" r="1.42"/><circle cx="312.81" cy="819.18" r="1.42"/><circle cx="312.81" cy="816.63" r="1.42"/><circle cx="312.81" cy="814.08" r="1.42"/><circle cx="312.81" cy="811.53" r="1.42"/><circle cx="320.84" cy="829.38" r="1.42"/><circle cx="320.84" cy="826.83" r="1.42"/><circle cx="320.84" cy="824.28" r="1.42"/><circle cx="320.84" cy="821.73" r="1.42"/><circle cx="328.86" cy="829.38" r="1.42"/><circle cx="328.86" cy="826.83" r="1.42"/><circle cx="328.86" cy="824.28" r="1.42"/><circle cx="328.86" cy="821.73" r="1.42"/><circle cx="328.86" cy="819.18" r="1.42"/><circle cx="328.86" cy="816.63" r="1.42"/><circle cx="328.86" cy="814.08" r="1.42"/><circle cx="328.86" cy="811.53" r="1.42"/><circle cx="336.89" cy="829.38" r="1.42"/><circle cx="336.89" cy="826.83" r="1.42"/><circle cx="336.89" cy="824.28" r="1.42"/><circle cx="336.89" cy="821.73" r="1.42"/><circle cx="344.92" cy="829.38" r="1.42"/><circle cx="344.92" cy="826.83" r="1.42"/><circle cx="344.92" cy="824.28" r="1.42"/><circle cx="344.92" cy="821.73" r="1.42"/><circle cx="344.92" cy="819.18" r="1.42"/><circle cx="344.92" cy="816.63" r="1.42"/><circle cx="352.94" cy="829.38" r="1.42"/><circle cx="352.94" cy="826.83" r="1.42"/><circle cx="352.94" cy="824.28" r="1.42"/><circle cx="352.94" cy="821.73" r="1.42"/><circle cx="360.97" cy="829.38" r="1.42"/><circle cx="360.97" cy="826.83" r="1.42"/><circle cx="360.97" cy="824.28" r="1.42"/><circle cx="369" cy="829.38" r="1.42"/><circle cx="369" cy="826.83" r="1.42"/><circle cx="369" cy="824.28" r="1.42"/><circle cx="369" cy="821.73" r="1.42"/><circle cx="369" cy="819.18" r="1.42"/><circle cx="369" cy="816.63" r="1.42"/><circle cx="369" cy="814.08" r="1.42"/><circle cx="377.03" cy="829.38" r="1.42"/><circle cx="377.03" cy="826.83" r="1.42"/><circle cx="377.03" cy="824.28" r="1.42"/><circle cx="377.03" cy="821.73" r="1.42"/><circle cx="377.03" cy="819.18" r="1.42"/><circle cx="385.05" cy="829.38" r="1.42"/><circle cx="385.05" cy="826.83" r="1.42"/><circle cx="385.05" cy="824.28" r="1.42"/><circle cx="385.05" cy="821.73" r="1.42"/><circle cx="385.05" cy="819.18" r="1.42"/><circle cx="385.05" cy="816.63" r="1.42"/><circle cx="385.05" cy="814.08" r="1.42"/><circle cx="393.08" cy="829.38" r="1.42"/><circle cx="393.08" cy="826.83" r="1.42"/><circle cx="393.08" cy="824.28" r="1.42"/><circle cx="393.08" cy="821.73" r="1.42"/><circle cx="393.08" cy="819.18" r="1.42"/><circle cx="393.08" cy="816.63" r="1.42"/><circle cx="393.08" cy="814.08" r="1.42"/><circle cx="393.08" cy="811.53" r="1.42"/><circle cx="393.08" cy="808.98" r="1.42"/><circle cx="393.08" cy="806.43" r="1.42"/><circle cx="393.08" cy="803.88" r="1.42"/><circle cx="393.08" cy="801.33" r="1.42"/><circle cx="393.08" cy="798.78" r="1.42"/><circle cx="393.08" cy="796.23" r="1.42"/><circle cx="393.08" cy="793.68" r="1.42"/><circle cx="401.11" cy="829.38" r="1.42"/><circle cx="401.11" cy="826.83" r="1.42"/><circle cx="409.13" cy="829.38" r="1.42"/><circle cx="409.13" cy="826.83" r="1.42"/><circle cx="409.13" cy="824.28" r="1.42"/><circle cx="409.13" cy="821.73" r="1.42"/><circle cx="409.13" cy="819.18" r="1.42"/><circle cx="409.13" cy="816.63" r="1.42"/><circle cx="417.16" cy="829.38" r="1.42"/><circle cx="417.16" cy="826.83" r="1.42"/><circle cx="417.16" cy="824.28" r="1.42"/><circle cx="417.16" cy="821.73" r="1.42"/><circle cx="417.16" cy="819.18" r="1.42"/><circle cx="417.16" cy="816.63" r="1.42"/><circle cx="417.16" cy="814.08" r="1.42"/><circle cx="425.19" cy="829.38" r="1.42"/><circle cx="425.19" cy="826.83" r="1.42"/><circle cx="433.21" cy="829.38" r="1.42"/><circle cx="433.21" cy="826.83" r="1.42"/><circle cx="433.21" cy="824.28" r="1.42"/><circle cx="433.21" cy="821.73" r="1.42"/><circle cx="433.21" cy="819.18" r="1.42"/><circle cx="433.21" cy="816.63" r="1.42"/><circle cx="433.21" cy="814.08" r="1.42"/><circle cx="433.21" cy="811.53" r="1.42"/><circle cx="433.21" cy="808.98" r="1.42"/><circle cx="433.21" cy="806.43" r="1.42"/><circle cx="433.21" cy="803.88" r="1.42"/><circle cx="433.21" cy="801.33" r="1.42"/><circle cx="433.21" cy="798.78" r="1.42"/><circle cx="433.21" cy="796.23" r="1.42"/><circle cx="433.21" cy="793.68" r="1.42"/><circle cx="441.24" cy="829.38" r="1.42"/><circle cx="441.24" cy="826.83" r="1.42"/><circle cx="441.24" cy="824.28" r="1.42"/><circle cx="441.24" cy="821.73" r="1.42"/><circle cx="441.24" cy="819.18" r="1.42"/><circle cx="441.24" cy="816.63" r="1.42"/><circle cx="441.24" cy="814.08" r="1.42"/><circle cx="441.24" cy="811.53" r="1.42"/><circle cx="449.27" cy="829.38" r="1.42"/><circle cx="449.27" cy="826.83" r="1.42"/><circle cx="449.27" cy="824.28" r="1.42"/><circle cx="457.3" cy="829.38" r="1.42"/><circle cx="457.3" cy="826.83" r="1.42"/><circle cx="457.3" cy="824.28" r="1.42"/><circle cx="457.3" cy="821.73" r="1.42"/><circle cx="457.3" cy="819.18" r="1.42"/><circle cx="457.3" cy="816.63" r="1.42"/><circle cx="457.3" cy="814.08" r="1.42"/><circle cx="457.3" cy="811.53" r="1.42"/><circle cx="457.3" cy="808.98" r="1.42"/><circle cx="457.3" cy="806.43" r="1.42"/><circle cx="457.3" cy="803.88" r="1.42"/><circle cx="457.3" cy="801.33" r="1.42"/><circle cx="457.3" cy="798.78" r="1.42"/><circle cx="465.32" cy="829.38" r="1.42"/><circle cx="465.32" cy="826.83" r="1.42"/><circle cx="465.32" cy="824.28" r="1.42"/><circle cx="465.32" cy="821.73" r="1.42"/><circle cx="465.32" cy="819.18" r="1.42"/><circle cx="465.32" cy="816.63" r="1.42"/><circle cx="465.32" cy="814.08" r="1.42"/><circle cx="465.32" cy="811.53" r="1.42"/><circle cx="465.32" cy="808.98" r="1.42"/><circle cx="465.32" cy="806.43" r="1.42"/><circle cx="465.32" cy="803.88" r="1.42"/><circle cx="473.35" cy="829.38" r="1.42"/><circle cx="473.35" cy="826.83" r="1.42"/><circle cx="473.35" cy="824.28" r="1.42"/><circle cx="473.35" cy="821.73" r="1.42"/><circle cx="473.35" cy="819.18" r="1.42"/><circle cx="473.35" cy="816.63" r="1.42"/><circle cx="473.35" cy="814.08" r="1.42"/><circle cx="481.38" cy="829.38" r="1.42"/><circle cx="481.38" cy="826.83" r="1.42"/><circle cx="481.38" cy="824.28" r="1.42"/><circle cx="481.38" cy="821.73" r="1.42"/><circle cx="481.38" cy="819.18" r="1.42"/><circle cx="481.38" cy="816.63" r="1.42"/><circle cx="481.38" cy="814.08" r="1.42"/><circle cx="481.38" cy="811.53" r="1.42"/><circle cx="481.38" cy="808.98" r="1.42"/><circle cx="481.38" cy="806.43" r="1.42"/><circle cx="481.38" cy="803.88" r="1.42"/><circle cx="481.38" cy="801.33" r="1.42"/><circle cx="481.38" cy="798.78" r="1.42"/><circle cx="481.38" cy="796.23" r="1.42"/><circle cx="481.38" cy="793.68" r="1.42"/><circle cx="481.38" cy="791.13" r="1.42"/><circle cx="481.38" cy="788.58" r="1.42"/><circle cx="481.38" cy="786.03" r="1.42"/><circle cx="481.38" cy="783.48" r="1.42"/><circle cx="489.4" cy="829.38" r="1.42"/><circle cx="489.4" cy="826.83" r="1.42"/><circle cx="489.4" cy="824.28" r="1.42"/><circle cx="489.4" cy="821.73" r="1.42"/><circle cx="489.4" cy="819.18" r="1.42"/><circle cx="489.4" cy="816.63" r="1.42"/><circle cx="489.4" cy="814.08" r="1.42"/><circle cx="489.4" cy="811.53" r="1.42"/><circle cx="489.4" cy="808.98" r="1.42"/><circle cx="489.4" cy="806.43" r="1.42"/><circle cx="489.4" cy="803.88" r="1.42"/><circle cx="489.4" cy="801.33" r="1.42"/><circle cx="489.4" cy="798.78" r="1.42"/><circle cx="489.4" cy="796.23" r="1.42"/><circle cx="489.4" cy="793.68" r="1.42"/><circle cx="489.4" cy="791.13" r="1.42"/><circle cx="497.43" cy="829.38" r="1.42"/><circle cx="497.43" cy="826.83" r="1.42"/><circle cx="497.43" cy="824.28" r="1.42"/><circle cx="497.43" cy="821.73" r="1.42"/><circle cx="497.43" cy="819.18" r="1.42"/><circle cx="497.43" cy="816.63" r="1.42"/><circle cx="497.43" cy="814.08" r="1.42"/><circle cx="497.43" cy="811.53" r="1.42"/><circle cx="497.43" cy="808.98" r="1.42"/><circle cx="497.43" cy="806.43" r="1.42"/><circle cx="497.43" cy="803.88" r="1.42"/><circle cx="497.43" cy="801.33" r="1.42"/><circle cx="497.43" cy="798.78" r="1.42"/><circle cx="497.43" cy="796.23" r="1.42"/><circle cx="497.43" cy="793.68" r="1.42"/><circle cx="497.43" cy="791.13" r="1.42"/><circle cx="497.43" cy="788.58" r="1.42"/><circle cx="505.46" cy="829.38" r="1.42"/><circle cx="505.46" cy="826.83" r="1.42"/><circle cx="505.46" cy="824.28" r="1.42"/><circle cx="505.46" cy="821.73" r="1.42"/><circle cx="505.46" cy="819.18" r="1.42"/><circle cx="505.46" cy="816.63" r="1.42"/><circle cx="505.46" cy="814.08" r="1.42"/><circle cx="505.46" cy="811.53" r="1.42"/><circle cx="505.46" cy="808.98" r="1.42"/><circle cx="505.46" cy="806.43" r="1.42"/><circle cx="505.46" cy="803.88" r="1.42"/><circle cx="505.46" cy="801.33" r="1.42"/><circle cx="505.46" cy="798.78" r="1.42"/><circle cx="505.46" cy="796.23" r="1.42"/><circle cx="505.46" cy="793.68" r="1.42"/><circle cx="513.48" cy="829.38" r="1.42"/><circle cx="513.48" cy="826.83" r="1.42"/><circle cx="513.48" cy="824.28" r="1.42"/><circle cx="513.48" cy="821.73" r="1.42"/><circle cx="513.48" cy="819.18" r="1.42"/><circle cx="513.48" cy="816.63" r="1.42"/><circle cx="513.48" cy="814.08" r="1.42"/><circle cx="513.48" cy="811.53" r="1.42"/><circle cx="513.48" cy="808.98" r="1.42"/><circle cx="513.48" cy="806.43" r="1.42"/><circle cx="521.51" cy="829.38" r="1.42"/><circle cx="521.51" cy="826.83" r="1.42"/><circle cx="521.51" cy="824.28" r="1.42"/><circle cx="521.51" cy="821.73" r="1.42"/><circle cx="521.51" cy="819.18" r="1.42"/><circle cx="521.51" cy="816.63" r="1.42"/><circle cx="521.51" cy="814.08" r="1.42"/><circle cx="521.51" cy="811.53" r="1.42"/><circle cx="521.51" cy="808.98" r="1.42"/><circle cx="521.51" cy="806.43" r="1.42"/><circle cx="529.54" cy="829.38" r="1.42"/><circle cx="529.54" cy="826.83" r="1.42"/><circle cx="529.54" cy="824.28" r="1.42"/><circle cx="529.54" cy="821.73" r="1.42"/><circle cx="529.54" cy="819.18" r="1.42"/><circle cx="529.54" cy="816.63" r="1.42"/><circle cx="529.54" cy="814.08" r="1.42"/><circle cx="529.54" cy="811.53" r="1.42"/><circle cx="529.54" cy="808.98" r="1.42"/><circle cx="529.54" cy="806.43" r="1.42"/><circle cx="529.54" cy="803.88" r="1.42"/><circle cx="529.54" cy="801.33" r="1.42"/><circle cx="529.54" cy="798.78" r="1.42"/><circle cx="529.54" cy="796.23" r="1.42"/><circle cx="529.54" cy="793.68" r="1.42"/><circle cx="529.54" cy="791.13" r="1.42"/><circle cx="529.54" cy="788.58" r="1.42"/><circle cx="529.54" cy="786.03" r="1.42"/><circle cx="537.57" cy="829.38" r="1.42"/><circle cx="537.57" cy="826.83" r="1.42"/><circle cx="537.57" cy="824.28" r="1.42"/><circle cx="537.57" cy="821.73" r="1.42"/><circle cx="537.57" cy="819.18" r="1.42"/><circle cx="537.57" cy="816.63" r="1.42"/><circle cx="537.57" cy="814.08" r="1.42"/><circle cx="537.57" cy="811.53" r="1.42"/><circle cx="537.57" cy="808.98" r="1.42"/><circle cx="537.57" cy="806.43" r="1.42"/><circle cx="537.57" cy="803.88" r="1.42"/><circle cx="537.57" cy="801.33" r="1.42"/><circle cx="537.57" cy="798.78" r="1.42"/><circle cx="537.57" cy="796.23" r="1.42"/><circle cx="537.57" cy="793.68" r="1.42"/><circle cx="545.59" cy="829.38" r="1.42"/><circle cx="545.59" cy="826.83" r="1.42"/><circle cx="545.59" cy="824.28" r="1.42"/><circle cx="545.59" cy="821.73" r="1.42"/><circle cx="545.59" cy="819.18" r="1.42"/><circle cx="545.59" cy="816.63" r="1.42"/><circle cx="545.59" cy="814.08" r="1.42"/><circle cx="545.59" cy="811.53" r="1.42"/><circle cx="545.59" cy="808.98" r="1.42"/><circle cx="545.59" cy="806.43" r="1.42"/><circle cx="545.59" cy="803.88" r="1.42"/><circle cx="545.59" cy="801.33" r="1.42"/><circle cx="545.59" cy="798.78" r="1.42"/><circle cx="545.59" cy="796.23" r="1.42"/><circle cx="545.59" cy="793.68" r="1.42"/><circle cx="545.59" cy="791.13" r="1.42"/><circle cx="545.59" cy="788.58" r="1.42"/><circle cx="553.62" cy="829.38" r="1.42"/><circle cx="553.62" cy="826.83" r="1.42"/><circle cx="553.62" cy="824.28" r="1.42"/><circle cx="553.62" cy="821.73" r="1.42"/><circle cx="553.62" cy="819.18" r="1.42"/><circle cx="553.62" cy="816.63" r="1.42"/><circle cx="553.62" cy="814.08" r="1.42"/><circle cx="553.62" cy="811.53" r="1.42"/><circle cx="553.62" cy="808.98" r="1.42"/><circle cx="553.62" cy="806.43" r="1.42"/><circle cx="553.62" cy="803.88" r="1.42"/><circle cx="553.62" cy="801.33" r="1.42"/><circle cx="553.62" cy="798.78" r="1.42"/><circle cx="553.62" cy="796.23" r="1.42"/><circle cx="553.62" cy="793.68" r="1.42"/><circle cx="553.62" cy="791.13" r="1.42"/><circle cx="553.62" cy="788.58" r="1.42"/><circle cx="553.62" cy="786.03" r="1.42"/><circle cx="553.62" cy="783.48" r="1.42"/><circle cx="561.65" cy="829.38" r="1.42"/><circle cx="561.65" cy="826.83" r="1.42"/><circle cx="561.65" cy="824.28" r="1.42"/><circle cx="561.65" cy="821.73" r="1.42"/><circle cx="561.65" cy="819.18" r="1.42"/><circle cx="561.65" cy="816.63" r="1.42"/><circle cx="561.65" cy="814.08" r="1.42"/><circle cx="561.65" cy="811.53" r="1.42"/><circle cx="561.65" cy="808.98" r="1.42"/><circle cx="561.65" cy="806.43" r="1.42"/><circle cx="569.67" cy="829.38" r="1.42"/><circle cx="569.67" cy="826.83" r="1.42"/><circle cx="569.67" cy="824.28" r="1.42"/><circle cx="569.67" cy="821.73" r="1.42"/><circle cx="569.67" cy="819.18" r="1.42"/><circle cx="569.67" cy="816.63" r="1.42"/><circle cx="577.7" cy="829.38" r="1.42"/><circle cx="577.7" cy="826.83" r="1.42"/><circle cx="577.7" cy="824.28" r="1.42"/><circle cx="577.7" cy="821.73" r="1.42"/><circle cx="577.7" cy="819.18" r="1.42"/><circle cx="577.7" cy="816.63" r="1.42"/><circle cx="577.7" cy="814.08" r="1.42"/><circle cx="577.7" cy="811.53" r="1.42"/><circle cx="577.7" cy="808.98" r="1.42"/><circle cx="577.7" cy="806.43" r="1.42"/><circle cx="577.7" cy="803.88" r="1.42"/><circle cx="577.7" cy="801.33" r="1.42"/><circle cx="577.7" cy="798.78" r="1.42"/><circle cx="577.7" cy="796.23" r="1.42"/><circle cx="577.7" cy="793.68" r="1.42"/><circle cx="577.7" cy="791.13" r="1.42"/><circle cx="577.7" cy="788.58" r="1.42"/><circle cx="577.7" cy="786.03" r="1.42"/><circle cx="577.7" cy="783.48" r="1.42"/><circle cx="577.7" cy="780.93" r="1.42"/><circle cx="577.7" cy="778.38" r="1.42"/><circle cx="577.7" cy="775.83" r="1.42"/><circle cx="577.7" cy="773.28" r="1.42"/><circle cx="577.7" cy="770.73" r="1.42"/><circle cx="577.7" cy="768.18" r="1.42"/><circle cx="577.7" cy="765.63" r="1.42"/><circle cx="577.7" cy="763.08" r="1.42"/><circle cx="585.73" cy="829.38" r="1.42"/><circle cx="585.73" cy="826.83" r="1.42"/><circle cx="585.73" cy="824.28" r="1.42"/><circle cx="585.73" cy="821.73" r="1.42"/><circle cx="585.73" cy="819.18" r="1.42"/><circle cx="585.73" cy="816.63" r="1.42"/><circle cx="585.73" cy="814.08" r="1.42"/><circle cx="585.73" cy="811.53" r="1.42"/><circle cx="585.73" cy="808.98" r="1.42"/><circle cx="585.73" cy="806.43" r="1.42"/><circle cx="585.73" cy="803.88" r="1.42"/><circle cx="585.73" cy="801.33" r="1.42"/><circle cx="585.73" cy="798.78" r="1.42"/><circle cx="585.73" cy="796.23" r="1.42"/><circle cx="585.73" cy="793.68" r="1.42"/><circle cx="585.73" cy="791.13" r="1.42"/><circle cx="585.73" cy="788.58" r="1.42"/><circle cx="585.73" cy="786.03" r="1.42"/><circle cx="585.73" cy="783.48" r="1.42"/><circle cx="585.73" cy="780.93" r="1.42"/><circle cx="585.73" cy="778.38" r="1.42"/><circle cx="585.73" cy="775.83" r="1.42"/><circle cx="585.73" cy="773.28" r="1.42"/><circle cx="585.73" cy="770.73" r="1.42"/><circle cx="585.73" cy="768.18" r="1.42"/><circle cx="585.73" cy="765.63" r="1.42"/><circle cx="585.73" cy="763.08" r="1.42"/><circle cx="585.73" cy="760.53" r="1.42"/><circle cx="585.73" cy="757.98" r="1.42"/><circle cx="585.73" cy="755.43" r="1.42"/><circle cx="585.73" cy="752.88" r="1.42"/><circle cx="585.73" cy="750.33" r="1.42"/><circle cx="585.73" cy="747.78" r="1.42"/><circle cx="585.73" cy="745.23" r="1.42"/><circle cx="585.73" cy="742.68" r="1.42"/><circle cx="585.73" cy="740.13" r="1.42"/><circle cx="593.75" cy="829.38" r="1.42"/><circle cx="593.75" cy="826.83" r="1.42"/><circle cx="593.75" cy="824.28" r="1.42"/><circle cx="593.75" cy="821.73" r="1.42"/><circle cx="593.75" cy="819.18" r="1.42"/><circle cx="593.75" cy="816.63" r="1.42"/><circle cx="593.75" cy="814.08" r="1.42"/><circle cx="593.75" cy="811.53" r="1.42"/><circle cx="593.75" cy="808.98" r="1.42"/><circle cx="593.75" cy="806.43" r="1.42"/><circle cx="593.75" cy="803.88" r="1.42"/><circle cx="593.75" cy="801.33" r="1.42"/><circle cx="593.75" cy="798.78" r="1.42"/><circle cx="593.75" cy="796.23" r="1.42"/><circle cx="593.75" cy="793.68" r="1.42"/><circle cx="601.78" cy="829.38" r="1.42"/><circle cx="601.78" cy="826.83" r="1.42"/><circle cx="601.78" cy="824.28" r="1.42"/><circle cx="601.78" cy="821.73" r="1.42"/><circle cx="601.78" cy="819.18" r="1.42"/><circle cx="601.78" cy="816.63" r="1.42"/><circle cx="601.78" cy="814.08" r="1.42"/><circle cx="601.78" cy="811.53" r="1.42"/><circle cx="601.78" cy="808.98" r="1.42"/><circle cx="601.78" cy="806.43" r="1.42"/><circle cx="601.78" cy="803.88" r="1.42"/><circle cx="601.78" cy="801.33" r="1.42"/><circle cx="601.78" cy="798.78" r="1.42"/><circle cx="601.78" cy="796.23" r="1.42"/><circle cx="601.78" cy="793.68" r="1.42"/><circle cx="601.78" cy="791.13" r="1.42"/><circle cx="601.78" cy="788.58" r="1.42"/><circle cx="601.78" cy="786.03" r="1.42"/><circle cx="601.78" cy="783.48" r="1.42"/><circle cx="601.78" cy="780.93" r="1.42"/><circle cx="601.78" cy="778.38" r="1.42"/><circle cx="601.78" cy="775.83" r="1.42"/><circle cx="601.78" cy="773.28" r="1.42"/><circle cx="601.78" cy="770.73" r="1.42"/><circle cx="601.78" cy="768.18" r="1.42"/><circle cx="601.78" cy="765.63" r="1.42"/><circle cx="601.78" cy="763.08" r="1.42"/><circle cx="601.78" cy="760.53" r="1.42"/><circle cx="601.78" cy="757.98" r="1.42"/><circle cx="601.78" cy="755.43" r="1.42"/><circle cx="601.78" cy="752.88" r="1.42"/><circle cx="601.78" cy="750.33" r="1.42"/><circle cx="609.81" cy="829.38" r="1.42"/><circle cx="609.81" cy="826.83" r="1.42"/><circle cx="609.81" cy="824.28" r="1.42"/><circle cx="609.81" cy="821.73" r="1.42"/><circle cx="609.81" cy="819.18" r="1.42"/><circle cx="609.81" cy="816.63" r="1.42"/><circle cx="609.81" cy="814.08" r="1.42"/><circle cx="609.81" cy="811.53" r="1.42"/><circle cx="609.81" cy="808.98" r="1.42"/><circle cx="609.81" cy="806.43" r="1.42"/><circle cx="609.81" cy="803.88" r="1.42"/><circle cx="609.81" cy="801.33" r="1.42"/><circle cx="609.81" cy="798.78" r="1.42"/><circle cx="609.81" cy="796.23" r="1.42"/><circle cx="609.81" cy="793.68" r="1.42"/><circle cx="609.81" cy="791.13" r="1.42"/><circle cx="609.81" cy="788.58" r="1.42"/><circle cx="609.81" cy="786.03" r="1.42"/><circle cx="609.81" cy="783.48" r="1.42"/><circle cx="609.81" cy="780.93" r="1.42"/><circle cx="617.84" cy="829.38" r="1.42"/><circle cx="617.84" cy="826.83" r="1.42"/><circle cx="617.84" cy="824.28" r="1.42"/><circle cx="617.84" cy="821.73" r="1.42"/><circle cx="617.84" cy="819.18" r="1.42"/><circle cx="617.84" cy="816.63" r="1.42"/><circle cx="617.84" cy="814.08" r="1.42"/><circle cx="617.84" cy="811.53" r="1.42"/><circle cx="617.84" cy="808.98" r="1.42"/><circle cx="617.84" cy="806.43" r="1.42"/><circle cx="617.84" cy="803.88" r="1.42"/><circle cx="617.84" cy="801.33" r="1.42"/><circle cx="617.84" cy="798.78" r="1.42"/><circle cx="617.84" cy="796.23" r="1.42"/><circle cx="617.84" cy="793.68" r="1.42"/><circle cx="617.84" cy="791.13" r="1.42"/><circle cx="617.84" cy="788.58" r="1.42"/><circle cx="617.84" cy="786.03" r="1.42"/><circle cx="617.84" cy="783.48" r="1.42"/><circle cx="617.84" cy="780.93" r="1.42"/><circle cx="617.84" cy="778.38" r="1.42"/><circle cx="617.84" cy="775.83" r="1.42"/><circle cx="617.84" cy="773.28" r="1.42"/><circle cx="617.84" cy="770.73" r="1.42"/><circle cx="625.86" cy="829.38" r="1.42"/><circle cx="625.86" cy="826.83" r="1.42"/><circle cx="625.86" cy="824.28" r="1.42"/><circle cx="625.86" cy="821.73" r="1.42"/><circle cx="625.86" cy="819.18" r="1.42"/><circle cx="625.86" cy="816.63" r="1.42"/><circle cx="625.86" cy="814.08" r="1.42"/><circle cx="625.86" cy="811.53" r="1.42"/><circle cx="625.86" cy="808.98" r="1.42"/><circle cx="625.86" cy="806.43" r="1.42"/><circle cx="625.86" cy="803.88" r="1.42"/><circle cx="625.86" cy="801.33" r="1.42"/><circle cx="625.86" cy="798.78" r="1.42"/><circle cx="625.86" cy="796.23" r="1.42"/><circle cx="625.86" cy="793.68" r="1.42"/><circle cx="625.86" cy="791.13" r="1.42"/><circle cx="625.86" cy="788.58" r="1.42"/><circle cx="625.86" cy="786.03" r="1.42"/><circle cx="625.86" cy="783.48" r="1.42"/><circle cx="625.86" cy="780.93" r="1.42"/><circle cx="625.86" cy="778.38" r="1.42"/><circle cx="625.86" cy="775.83" r="1.42"/><circle cx="633.89" cy="829.38" r="1.42"/><circle cx="633.89" cy="826.83" r="1.42"/><circle cx="633.89" cy="824.28" r="1.42"/><circle cx="633.89" cy="821.73" r="1.42"/><circle cx="633.89" cy="819.18" r="1.42"/><circle cx="633.89" cy="816.63" r="1.42"/><circle cx="633.89" cy="814.08" r="1.42"/><circle cx="633.89" cy="811.53" r="1.42"/><circle cx="633.89" cy="808.98" r="1.42"/><circle cx="641.92" cy="829.38" r="1.42"/><circle cx="641.92" cy="826.83" r="1.42"/><circle cx="641.92" cy="824.28" r="1.42"/><circle cx="641.92" cy="821.73" r="1.42"/><circle cx="641.92" cy="819.18" r="1.42"/><circle cx="641.92" cy="816.63" r="1.42"/><circle cx="641.92" cy="814.08" r="1.42"/><circle cx="641.92" cy="811.53" r="1.42"/><circle cx="641.92" cy="808.98" r="1.42"/><circle cx="641.92" cy="806.43" r="1.42"/><circle cx="641.92" cy="803.88" r="1.42"/><circle cx="641.92" cy="801.33" r="1.42"/><circle cx="641.92" cy="798.78" r="1.42"/><circle cx="641.92" cy="796.23" r="1.42"/><circle cx="641.92" cy="793.68" r="1.42"/><circle cx="641.92" cy="791.13" r="1.42"/><circle cx="641.92" cy="788.58" r="1.42"/><circle cx="641.92" cy="786.03" r="1.42"/><circle cx="641.92" cy="783.48" r="1.42"/><circle cx="641.92" cy="780.93" r="1.42"/><circle cx="641.92" cy="778.38" r="1.42"/><circle cx="641.92" cy="775.83" r="1.42"/><circle cx="641.92" cy="773.28" r="1.42"/><circle cx="641.92" cy="770.73" r="1.42"/><circle cx="641.92" cy="768.18" r="1.42"/><circle cx="641.92" cy="765.63" r="1.42"/><circle cx="641.92" cy="763.08" r="1.42"/><circle cx="641.92" cy="760.53" r="1.42"/><circle cx="641.92" cy="757.98" r="1.42"/><circle cx="641.92" cy="755.43" r="1.42"/><circle cx="641.92" cy="752.88" r="1.42"/><circle cx="641.92" cy="750.33" r="1.42"/><circle cx="641.92" cy="747.78" r="1.42"/><circle cx="641.92" cy="745.23" r="1.42"/><circle cx="641.92" cy="742.68" r="1.42"/><circle cx="641.92" cy="740.13" r="1.42"/><circle cx="641.92" cy="737.58" r="1.42"/><circle cx="641.92" cy="735.03" r="1.42"/></g>
<text transform="translate(677 776.2) rotate(90)" text-anchor="middle" font-size="11.0" fill="#262626">MIROC−ES2L</text>
<text x="152.3" y="742.9" text-anchor="middle" font-size="13.2" fill="#000">n = 9</text>
<line x1="43.05" y1="836.1" x2="670.8" y2="836.1" stroke="#1a1a1a" stroke-width="1.15"/>
<line x1="152.27" y1="836.1" x2="152.27" y2="839.6" stroke="#333" stroke-width="1.1"/>
<text x="152.27" y="849.8" text-anchor="middle" font-size="11.0" fill="#4d4d4d">1960</text>
<line x1="312.81" y1="836.1" x2="312.81" y2="839.6" stroke="#333" stroke-width="1.1"/>
<text x="312.81" y="849.8" text-anchor="middle" font-size="11.0" fill="#4d4d4d">1980</text>
<line x1="473.35" y1="836.1" x2="473.35" y2="839.6" stroke="#333" stroke-width="1.1"/>
<text x="473.35" y="849.8" text-anchor="middle" font-size="11.0" fill="#4d4d4d">2000</text>
<line x1="633.89" y1="836.1" x2="633.89" y2="839.6" stroke="#333" stroke-width="1.1"/>
<text x="633.89" y="849.8" text-anchor="middle" font-size="11.0" fill="#4d4d4d">2020</text>
<text x="357.2" y="865.9" text-anchor="middle" font-size="13.3" fill="#000">Year of Record</text>
<text transform="translate(9.1 649.3) rotate(-90)" text-anchor="middle" font-size="13.3" fill="#000">Density</text>
</svg>
</body>
</html>
